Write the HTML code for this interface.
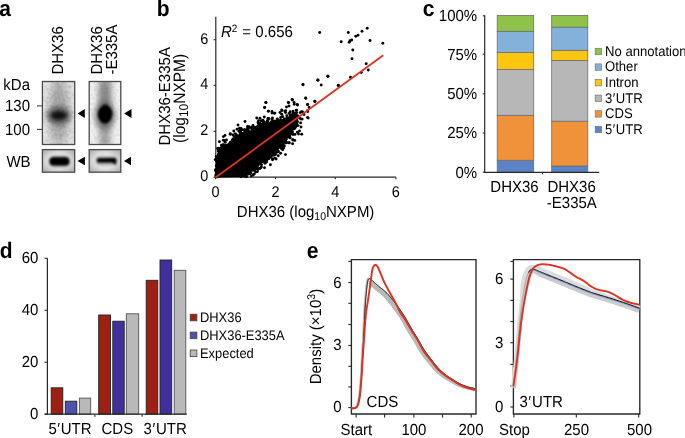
<!DOCTYPE html>
<html><head><meta charset="utf-8"><style>
html,body{margin:0;padding:0;background:#fff;}
svg{display:block;will-change:transform;text-rendering:geometricPrecision;font-family:"Liberation Sans", sans-serif;}
</style></head><body>
<svg width="685" height="438" viewBox="0 0 685 438">
<rect width="685" height="438" fill="#fff"/>
<text font-size="21" font-weight="bold" transform="translate(-0.8 15.8) scale(1 1.07)" fill="#000">a</text>
<text font-size="21" font-weight="bold" transform="translate(156.8 15.8) scale(1 1.07)" fill="#000">b</text>
<text font-size="21" font-weight="bold" transform="translate(422.8 16.1) scale(1 1.07)" fill="#000">c</text>
<text font-size="21" font-weight="bold" transform="translate(-0.2 258.0) scale(1 1.07)" fill="#000">d</text>
<text font-size="21" font-weight="bold" transform="translate(306.7 257.8) scale(1 1.07)" fill="#000">e</text>
<defs>
<filter id="noise" x="0" y="0" width="100%" height="100%">
 <feTurbulence type="fractalNoise" baseFrequency="0.35" numOctaves="2" seed="3" result="n"/>
 <feColorMatrix type="matrix" values="0 0 0 0 0  0 0 0 0 0  0 0 0 0 0  0 0 0 -1.2 0.75" />
</filter>
<filter id="blur1" x="-50%" y="-50%" width="200%" height="200%"><feGaussianBlur stdDeviation="1.6"/></filter>
<filter id="blur2" x="-50%" y="-50%" width="200%" height="200%"><feGaussianBlur stdDeviation="2.6"/></filter>
<filter id="blur05"><feGaussianBlur stdDeviation="0.7"/></filter>
<filter id="blur06" x="-20%" y="-50%" width="140%" height="200%"><feGaussianBlur stdDeviation="0.6"/></filter>
<filter id="blur08" x="-20%" y="-20%" width="140%" height="140%"><feGaussianBlur stdDeviation="0.8"/></filter>
<filter id="blur3" x="-50%" y="-50%" width="200%" height="200%"><feGaussianBlur stdDeviation="3"/></filter>
<filter id="blur4" x="-50%" y="-50%" width="200%" height="200%"><feGaussianBlur stdDeviation="4"/></filter>
<linearGradient id="laneL" x1="0" x2="1" y1="0" y2="0">
 <stop offset="0" stop-color="#e9e9e9"/><stop offset="0.5" stop-color="#c2c2c2"/><stop offset="1" stop-color="#e9e9e9"/>
</linearGradient>
<linearGradient id="laneR" x1="0" x2="1" y1="0" y2="0">
 <stop offset="0" stop-color="#f0f0f0"/><stop offset="0.2" stop-color="#e6e6e6"/><stop offset="0.5" stop-color="#a8a8a8"/><stop offset="0.8" stop-color="#e4e4e4"/><stop offset="1" stop-color="#eeeeee"/>
</linearGradient>
<radialGradient id="bandL" cx="0.5" cy="0.5" r="0.5">
 <stop offset="0" stop-color="#000" stop-opacity="1"/><stop offset="0.35" stop-color="#111" stop-opacity="0.9"/><stop offset="0.7" stop-color="#444" stop-opacity="0.35"/><stop offset="1" stop-color="#888" stop-opacity="0"/>
</radialGradient>
<radialGradient id="bandR" cx="0.5" cy="0.5" r="0.5">
 <stop offset="0" stop-color="#000" stop-opacity="1"/><stop offset="0.5" stop-color="#000" stop-opacity="1"/><stop offset="0.75" stop-color="#333" stop-opacity="0.6"/><stop offset="1" stop-color="#777" stop-opacity="0"/>
</radialGradient>
<radialGradient id="wbbg" cx="0.5" cy="0.5" r="0.6">
 <stop offset="0" stop-color="#f0f0f0"/><stop offset="0.55" stop-color="#e4e4e4"/><stop offset="1" stop-color="#b4b4b4"/>
</radialGradient>
<clipPath id="cg1"><rect x="42.4" y="81.5" width="32.3" height="63"/></clipPath>
<clipPath id="cg2"><rect x="89.2" y="81.5" width="31.6" height="63"/></clipPath>
</defs>
<g clip-path="url(#cg1)">
<rect x="42.40" y="81.50" width="32.30" height="63.00" fill="#e9e9e9"/>
<rect x="45" y="78" width="28" height="70" fill="url(#laneL)" filter="url(#blur2)"/>
<ellipse cx="59" cy="112" rx="10" ry="28" fill="#8a8a8a" opacity="0.5" filter="url(#blur4)"/>
<ellipse cx="58.8" cy="115.5" rx="12" ry="9" fill="#333" opacity="0.7" filter="url(#blur2)"/>
<ellipse cx="58.8" cy="115.5" rx="7.6" ry="3.9" fill="#000" opacity="0.78" filter="url(#blur1)"/>
<rect x="42.4" y="81.5" width="32.3" height="63" filter="url(#noise)" opacity="0.22"/>
</g>
<g clip-path="url(#cg2)">
<rect x="89.20" y="81.50" width="31.60" height="63.00" fill="#f2f2f2"/>
<path d="M98.5,78 L111.5,78 L111,112 L110,148 L99.5,148 L98.5,112 Z" fill="#a2a2a2" filter="url(#blur3)"/>
<ellipse cx="105" cy="98" rx="5" ry="16" fill="#777" opacity="0.6" filter="url(#blur2)"/>
<ellipse cx="105" cy="115.5" rx="10.5" ry="14" fill="#444" opacity="0.55" filter="url(#blur2)"/>
<path d="M105.6,104.3 C108.3,105.6 112.4,109 112.4,113.2 C112.4,118.6 108.8,123.6 105,123.6 C101,123.6 97.8,118.8 97.8,114 C97.8,109.5 102,105.3 105.6,104.3 Z" fill="#000" filter="url(#blur08)"/>
<rect x="89.2" y="81.5" width="31.6" height="63" filter="url(#noise)" opacity="0.15"/>
</g>
<rect x="42.40" y="81.50" width="32.30" height="63.00" fill="none" stroke="#4a4a4a" stroke-width="1.3"/>
<rect x="89.20" y="81.50" width="31.60" height="63.00" fill="none" stroke="#4a4a4a" stroke-width="1.3"/>
<rect x="42.40" y="149.60" width="32.30" height="22.60" fill="url(#wbbg)" stroke="#4a4a4a" stroke-width="1.3"/>
<rect x="89.20" y="149.60" width="31.60" height="22.60" fill="url(#wbbg)" stroke="#4a4a4a" stroke-width="1.3"/>
<rect x="48.6" y="155.8" width="21.7" height="11.4" rx="5.5" fill="#555" opacity="0.5" filter="url(#blur1)"/>
<rect x="49.6" y="157.3" width="19.7" height="8.3" rx="4" fill="#000" filter="url(#blur08)"/>
<rect x="95.5" y="156.3" width="21.5" height="9" rx="4.5" fill="#555" opacity="0.45" filter="url(#blur1)"/>
<path d="M97.6,158.3 L114.6,158.1 Q116.6,158.3 116.4,160.6 L115.8,165.3 Q114.6,163.0 112.0,162.6 L97.6,162.6 Q95.9,160.4 97.6,158.3 Z" fill="#000" filter="url(#blur08)"/>
<path d="M77.6,113.6 L84.8,109.1 L84.8,118.1 Z" fill="#000"/>
<path d="M124.1,113.6 L131.5,109.1 L131.5,118.1 Z" fill="#000"/>
<path d="M77.5,161.0 L84.9,156.7 L84.9,165.3 Z" fill="#000"/>
<path d="M124.0,161.0 L131.0,156.7 L131.0,165.3 Z" fill="#000"/>
<line x1="37" y1="105.9" x2="42.4" y2="105.9" stroke="#444" stroke-width="1.1"/>
<line x1="37" y1="129.4" x2="42.4" y2="129.4" stroke="#444" stroke-width="1.1"/>
<text font-size="15" text-anchor="end" transform="translate(30 89.8) scale(1 1.07)" fill="#000">kDa</text>
<text font-size="15" text-anchor="end" transform="translate(30 111.2) scale(1 1.07)" fill="#000">130</text>
<text font-size="15" text-anchor="end" transform="translate(30 134.8) scale(1 1.07)" fill="#000">100</text>
<text font-size="15" text-anchor="end" transform="translate(30.6 167.4) scale(1 1.07)" fill="#000">WB</text>
<text font-size="15" transform="translate(63.3 74.6) rotate(-90) scale(1 1.07)" fill="#000">DHX36</text>
<text font-size="15" transform="translate(101.8 74.6) rotate(-90) scale(1 1.07)" fill="#000">DHX36</text>
<text font-size="15" transform="translate(116.9 74.6) rotate(-90) scale(1 1.07)" fill="#000">-E335A</text>
<line x1="215.8" y1="16.7" x2="215.8" y2="177.8" stroke="#282828" stroke-width="1.2"/>
<line x1="215.2" y1="177.2" x2="395.9" y2="177.2" stroke="#282828" stroke-width="1.2"/>
<line x1="213.6" y1="39.7" x2="215.8" y2="39.7" stroke="#282828" stroke-width="1.1"/>
<line x1="213.6" y1="85.3" x2="215.8" y2="85.3" stroke="#282828" stroke-width="1.1"/>
<line x1="213.6" y1="131.3" x2="215.8" y2="131.3" stroke="#282828" stroke-width="1.1"/>
<line x1="213.6" y1="177.2" x2="215.8" y2="177.2" stroke="#282828" stroke-width="1.1"/>
<line x1="215.5" y1="177.2" x2="215.5" y2="179.2" stroke="#282828" stroke-width="1.1"/>
<line x1="275.5" y1="177.2" x2="275.5" y2="179.2" stroke="#282828" stroke-width="1.1"/>
<line x1="335.3" y1="177.2" x2="335.3" y2="179.2" stroke="#282828" stroke-width="1.1"/>
<line x1="395.9" y1="177.2" x2="395.9" y2="179.2" stroke="#282828" stroke-width="1.1"/>
<path d="M215.5,177.4 L215.9,163.2 L217.9,157.9 L219.7,152.3 L221.9,148.6 L225.6,146.2 L229.7,143.8 L232.3,141.4 L236.2,136.7 L240.7,133.4 L246.4,131.3 L252.7,129.9 L256.8,126.9 L262.7,124.6 L267.3,122.2 L272.1,122.0 L277.2,121.5 L282.3,120.7 L287.6,118.6 L291.7,115.5 L294.5,113.7 L296.0,114.7 L296.3,117.9 L294.9,123.6 L292.4,128.5 L290.0,133.4 L287.0,137.8 L285.0,140.3 L281.7,145.7 L277.4,151.1 L272.1,155.4 L266.7,159.8 L261.2,164.1 L255.7,168.4 L250.4,172.3 L246.1,174.5 L239.8,177.0 Z" fill="#000"/>
<g fill="#000"><circle cx="216.6" cy="173.3" r="1.45"/><circle cx="217.0" cy="177.1" r="1.45"/><circle cx="215.4" cy="170.1" r="1.45"/><circle cx="216.0" cy="170.5" r="1.45"/><circle cx="215.9" cy="176.8" r="1.45"/><circle cx="216.0" cy="171.7" r="1.45"/><circle cx="217.1" cy="168.7" r="1.45"/><circle cx="217.8" cy="163.4" r="1.45"/><circle cx="216.3" cy="173.8" r="1.45"/><circle cx="216.4" cy="176.0" r="1.45"/><circle cx="216.3" cy="165.8" r="1.45"/><circle cx="216.1" cy="169.9" r="1.45"/><circle cx="215.8" cy="175.1" r="1.45"/><circle cx="216.1" cy="169.3" r="1.45"/><circle cx="216.5" cy="159.1" r="1.45"/><circle cx="218.7" cy="163.8" r="1.45"/><circle cx="216.5" cy="161.1" r="1.45"/><circle cx="216.1" cy="160.4" r="1.45"/><circle cx="215.3" cy="159.6" r="1.45"/><circle cx="216.9" cy="158.3" r="1.45"/><circle cx="218.3" cy="160.6" r="1.45"/><circle cx="218.4" cy="155.0" r="1.45"/><circle cx="218.7" cy="153.7" r="1.45"/><circle cx="220.9" cy="154.7" r="1.45"/><circle cx="218.2" cy="156.2" r="1.45"/><circle cx="218.3" cy="155.6" r="1.45"/><circle cx="218.4" cy="155.1" r="1.45"/><circle cx="218.3" cy="156.9" r="1.45"/><circle cx="219.4" cy="153.5" r="1.45"/><circle cx="216.2" cy="156.5" r="1.45"/><circle cx="218.5" cy="151.3" r="1.45"/><circle cx="222.0" cy="149.0" r="1.45"/><circle cx="221.9" cy="149.3" r="1.45"/><circle cx="219.9" cy="150.3" r="1.45"/><circle cx="222.1" cy="151.9" r="1.45"/><circle cx="218.2" cy="150.8" r="1.45"/><circle cx="220.0" cy="151.7" r="1.45"/><circle cx="217.5" cy="148.5" r="1.45"/><circle cx="219.3" cy="149.0" r="1.45"/><circle cx="223.3" cy="147.6" r="1.45"/><circle cx="221.7" cy="145.6" r="1.45"/><circle cx="223.7" cy="145.9" r="1.45"/><circle cx="222.9" cy="146.3" r="1.45"/><circle cx="221.2" cy="147.6" r="1.45"/><circle cx="225.4" cy="146.7" r="1.45"/><circle cx="223.5" cy="144.7" r="1.45"/><circle cx="221.6" cy="145.3" r="1.45"/><circle cx="222.7" cy="144.9" r="1.45"/><circle cx="226.1" cy="146.5" r="1.45"/><circle cx="226.3" cy="145.9" r="1.45"/><circle cx="226.9" cy="145.3" r="1.45"/><circle cx="226.1" cy="145.7" r="1.45"/><circle cx="225.8" cy="145.7" r="1.45"/><circle cx="229.1" cy="144.1" r="1.45"/><circle cx="228.2" cy="145.0" r="1.45"/><circle cx="225.2" cy="142.3" r="1.45"/><circle cx="224.2" cy="140.5" r="1.45"/><circle cx="233.1" cy="142.5" r="1.45"/><circle cx="230.5" cy="142.2" r="1.45"/><circle cx="230.0" cy="143.3" r="1.45"/><circle cx="230.4" cy="142.6" r="1.45"/><circle cx="231.5" cy="144.7" r="1.45"/><circle cx="226.5" cy="139.9" r="1.45"/><circle cx="232.4" cy="140.3" r="1.45"/><circle cx="235.4" cy="139.5" r="1.45"/><circle cx="236.3" cy="136.7" r="1.45"/><circle cx="235.4" cy="136.9" r="1.45"/><circle cx="233.0" cy="139.0" r="1.45"/><circle cx="233.0" cy="140.6" r="1.45"/><circle cx="234.3" cy="136.6" r="1.45"/><circle cx="233.7" cy="139.9" r="1.45"/><circle cx="237.6" cy="137.8" r="1.45"/><circle cx="232.9" cy="134.9" r="1.45"/><circle cx="230.3" cy="133.7" r="1.45"/><circle cx="236.5" cy="135.0" r="1.45"/><circle cx="236.1" cy="136.4" r="1.45"/><circle cx="236.0" cy="136.4" r="1.45"/><circle cx="239.8" cy="134.8" r="1.45"/><circle cx="239.0" cy="131.3" r="1.45"/><circle cx="241.1" cy="133.8" r="1.45"/><circle cx="240.2" cy="132.8" r="1.45"/><circle cx="237.4" cy="136.3" r="1.45"/><circle cx="235.2" cy="133.6" r="1.45"/><circle cx="237.1" cy="129.2" r="1.45"/><circle cx="244.9" cy="129.9" r="1.45"/><circle cx="245.3" cy="131.7" r="1.45"/><circle cx="240.5" cy="131.8" r="1.45"/><circle cx="244.4" cy="129.6" r="1.45"/><circle cx="244.7" cy="130.9" r="1.45"/><circle cx="245.2" cy="131.6" r="1.45"/><circle cx="242.8" cy="133.4" r="1.45"/><circle cx="241.9" cy="129.8" r="1.45"/><circle cx="243.4" cy="133.9" r="1.45"/><circle cx="240.4" cy="129.9" r="1.45"/><circle cx="239.5" cy="128.2" r="1.45"/><circle cx="251.6" cy="131.9" r="1.45"/><circle cx="247.5" cy="132.3" r="1.45"/><circle cx="249.7" cy="127.6" r="1.45"/><circle cx="248.3" cy="130.1" r="1.45"/><circle cx="246.4" cy="130.9" r="1.45"/><circle cx="252.1" cy="129.0" r="1.45"/><circle cx="251.8" cy="128.8" r="1.45"/><circle cx="249.3" cy="131.9" r="1.45"/><circle cx="247.3" cy="129.4" r="1.45"/><circle cx="247.4" cy="128.5" r="1.45"/><circle cx="249.1" cy="126.7" r="1.45"/><circle cx="253.5" cy="128.4" r="1.45"/><circle cx="256.6" cy="127.1" r="1.45"/><circle cx="253.4" cy="127.4" r="1.45"/><circle cx="256.6" cy="127.2" r="1.45"/><circle cx="255.2" cy="129.2" r="1.45"/><circle cx="254.5" cy="127.5" r="1.45"/><circle cx="255.6" cy="129.0" r="1.45"/><circle cx="252.3" cy="127.3" r="1.45"/><circle cx="251.4" cy="127.8" r="1.45"/><circle cx="259.2" cy="125.0" r="1.45"/><circle cx="260.6" cy="124.2" r="1.45"/><circle cx="259.5" cy="125.2" r="1.45"/><circle cx="259.9" cy="125.6" r="1.45"/><circle cx="259.7" cy="125.0" r="1.45"/><circle cx="257.9" cy="125.9" r="1.45"/><circle cx="260.3" cy="127.3" r="1.45"/><circle cx="260.0" cy="125.6" r="1.45"/><circle cx="258.4" cy="123.5" r="1.45"/><circle cx="258.5" cy="120.7" r="1.45"/><circle cx="260.0" cy="123.4" r="1.45"/><circle cx="264.3" cy="122.2" r="1.45"/><circle cx="267.1" cy="121.8" r="1.45"/><circle cx="266.9" cy="124.3" r="1.45"/><circle cx="263.1" cy="122.1" r="1.45"/><circle cx="266.3" cy="124.7" r="1.45"/><circle cx="263.0" cy="123.4" r="1.45"/><circle cx="263.1" cy="123.7" r="1.45"/><circle cx="263.9" cy="123.9" r="1.45"/><circle cx="261.2" cy="120.7" r="1.45"/><circle cx="264.3" cy="117.0" r="1.45"/><circle cx="267.8" cy="121.6" r="1.45"/><circle cx="267.7" cy="120.4" r="1.45"/><circle cx="271.5" cy="122.6" r="1.45"/><circle cx="271.8" cy="121.7" r="1.45"/><circle cx="268.9" cy="118.6" r="1.45"/><circle cx="271.2" cy="122.1" r="1.45"/><circle cx="267.8" cy="120.8" r="1.45"/><circle cx="268.6" cy="118.8" r="1.45"/><circle cx="267.9" cy="118.4" r="1.45"/><circle cx="272.4" cy="123.4" r="1.45"/><circle cx="274.9" cy="121.3" r="1.45"/><circle cx="273.8" cy="121.7" r="1.45"/><circle cx="275.2" cy="121.1" r="1.45"/><circle cx="277.0" cy="121.3" r="1.45"/><circle cx="276.1" cy="121.9" r="1.45"/><circle cx="273.4" cy="121.6" r="1.45"/><circle cx="272.1" cy="119.6" r="1.45"/><circle cx="272.4" cy="117.9" r="1.45"/><circle cx="279.5" cy="122.7" r="1.45"/><circle cx="278.3" cy="120.0" r="1.45"/><circle cx="278.1" cy="122.4" r="1.45"/><circle cx="280.6" cy="120.0" r="1.45"/><circle cx="277.9" cy="122.8" r="1.45"/><circle cx="279.4" cy="121.5" r="1.45"/><circle cx="277.7" cy="122.7" r="1.45"/><circle cx="280.7" cy="117.5" r="1.45"/><circle cx="277.2" cy="118.9" r="1.45"/><circle cx="286.6" cy="118.5" r="1.45"/><circle cx="284.4" cy="118.9" r="1.45"/><circle cx="287.4" cy="119.8" r="1.45"/><circle cx="284.0" cy="120.8" r="1.45"/><circle cx="283.9" cy="120.9" r="1.45"/><circle cx="283.0" cy="120.4" r="1.45"/><circle cx="283.5" cy="120.3" r="1.45"/><circle cx="282.7" cy="116.8" r="1.45"/><circle cx="281.7" cy="114.3" r="1.45"/><circle cx="289.9" cy="117.2" r="1.45"/><circle cx="288.2" cy="119.1" r="1.45"/><circle cx="289.7" cy="119.0" r="1.45"/><circle cx="289.9" cy="116.8" r="1.45"/><circle cx="286.8" cy="115.8" r="1.45"/><circle cx="288.3" cy="118.4" r="1.45"/><circle cx="290.2" cy="114.9" r="1.45"/><circle cx="289.1" cy="113.4" r="1.45"/><circle cx="285.7" cy="112.6" r="1.45"/><circle cx="294.9" cy="113.3" r="1.45"/><circle cx="293.1" cy="115.4" r="1.45"/><circle cx="293.0" cy="112.8" r="1.45"/><circle cx="292.8" cy="114.4" r="1.45"/><circle cx="292.1" cy="115.4" r="1.45"/><circle cx="291.7" cy="115.2" r="1.45"/><circle cx="290.2" cy="111.7" r="1.45"/><circle cx="293.6" cy="114.5" r="1.45"/><circle cx="296.6" cy="112.8" r="1.45"/><circle cx="294.7" cy="113.8" r="1.45"/><circle cx="294.7" cy="114.8" r="1.45"/><circle cx="296.3" cy="110.4" r="1.45"/><circle cx="296.2" cy="118.0" r="1.45"/><circle cx="297.3" cy="117.9" r="1.45"/><circle cx="296.7" cy="118.0" r="1.45"/><circle cx="296.2" cy="115.4" r="1.45"/><circle cx="296.2" cy="115.7" r="1.45"/><circle cx="297.0" cy="115.9" r="1.45"/><circle cx="298.1" cy="115.9" r="1.45"/><circle cx="296.6" cy="117.8" r="1.45"/><circle cx="295.5" cy="120.0" r="1.45"/><circle cx="295.6" cy="117.8" r="1.45"/><circle cx="296.1" cy="119.1" r="1.45"/><circle cx="297.4" cy="121.7" r="1.45"/><circle cx="295.9" cy="121.8" r="1.45"/><circle cx="294.7" cy="121.9" r="1.45"/><circle cx="296.8" cy="119.9" r="1.45"/><circle cx="294.0" cy="123.4" r="1.45"/><circle cx="300.6" cy="122.9" r="1.45"/><circle cx="300.9" cy="119.1" r="1.45"/><circle cx="295.3" cy="127.6" r="1.45"/><circle cx="293.1" cy="127.1" r="1.45"/><circle cx="294.3" cy="126.4" r="1.45"/><circle cx="292.9" cy="125.6" r="1.45"/><circle cx="294.6" cy="128.5" r="1.45"/><circle cx="292.5" cy="125.9" r="1.45"/><circle cx="294.3" cy="127.5" r="1.45"/><circle cx="294.0" cy="124.4" r="1.45"/><circle cx="296.1" cy="126.3" r="1.45"/><circle cx="298.0" cy="125.6" r="1.45"/><circle cx="292.1" cy="132.2" r="1.45"/><circle cx="291.5" cy="131.9" r="1.45"/><circle cx="293.6" cy="129.1" r="1.45"/><circle cx="290.6" cy="132.5" r="1.45"/><circle cx="292.4" cy="131.8" r="1.45"/><circle cx="289.5" cy="131.1" r="1.45"/><circle cx="291.3" cy="129.5" r="1.45"/><circle cx="292.6" cy="129.0" r="1.45"/><circle cx="297.4" cy="132.3" r="1.45"/><circle cx="295.0" cy="134.4" r="1.45"/><circle cx="289.2" cy="135.3" r="1.45"/><circle cx="289.4" cy="136.0" r="1.45"/><circle cx="289.7" cy="137.2" r="1.45"/><circle cx="287.8" cy="136.0" r="1.45"/><circle cx="289.2" cy="134.4" r="1.45"/><circle cx="288.3" cy="137.1" r="1.45"/><circle cx="289.0" cy="132.8" r="1.45"/><circle cx="290.1" cy="133.8" r="1.45"/><circle cx="292.8" cy="139.7" r="1.45"/><circle cx="290.3" cy="137.9" r="1.45"/><circle cx="285.3" cy="138.2" r="1.45"/><circle cx="284.9" cy="138.0" r="1.45"/><circle cx="285.6" cy="137.4" r="1.45"/><circle cx="285.1" cy="140.2" r="1.45"/><circle cx="286.4" cy="139.1" r="1.45"/><circle cx="289.2" cy="142.8" r="1.45"/><circle cx="284.5" cy="142.1" r="1.45"/><circle cx="283.8" cy="141.2" r="1.45"/><circle cx="283.4" cy="143.8" r="1.45"/><circle cx="287.0" cy="142.6" r="1.45"/><circle cx="285.1" cy="141.4" r="1.45"/><circle cx="284.4" cy="146.1" r="1.45"/><circle cx="282.9" cy="144.3" r="1.45"/><circle cx="283.5" cy="141.2" r="1.45"/><circle cx="285.7" cy="141.0" r="1.45"/><circle cx="289.1" cy="142.9" r="1.45"/><circle cx="285.8" cy="143.1" r="1.45"/><circle cx="281.7" cy="146.9" r="1.45"/><circle cx="277.6" cy="149.9" r="1.45"/><circle cx="281.9" cy="145.8" r="1.45"/><circle cx="283.0" cy="147.7" r="1.45"/><circle cx="278.3" cy="151.2" r="1.45"/><circle cx="282.4" cy="148.8" r="1.45"/><circle cx="282.7" cy="149.8" r="1.45"/><circle cx="277.4" cy="147.4" r="1.45"/><circle cx="281.0" cy="148.3" r="1.45"/><circle cx="281.4" cy="145.8" r="1.45"/><circle cx="283.7" cy="148.1" r="1.45"/><circle cx="280.6" cy="153.2" r="1.45"/><circle cx="276.4" cy="152.3" r="1.45"/><circle cx="275.8" cy="150.9" r="1.45"/><circle cx="274.3" cy="151.1" r="1.45"/><circle cx="273.7" cy="155.2" r="1.45"/><circle cx="272.8" cy="152.2" r="1.45"/><circle cx="275.6" cy="154.6" r="1.45"/><circle cx="272.7" cy="153.0" r="1.45"/><circle cx="274.9" cy="152.7" r="1.45"/><circle cx="274.0" cy="154.9" r="1.45"/><circle cx="277.9" cy="151.9" r="1.45"/><circle cx="275.1" cy="158.2" r="1.45"/><circle cx="278.3" cy="155.7" r="1.45"/><circle cx="270.8" cy="157.0" r="1.45"/><circle cx="272.7" cy="159.0" r="1.45"/><circle cx="268.9" cy="158.7" r="1.45"/><circle cx="269.3" cy="156.2" r="1.45"/><circle cx="271.1" cy="155.9" r="1.45"/><circle cx="266.9" cy="159.0" r="1.45"/><circle cx="269.3" cy="157.4" r="1.45"/><circle cx="265.3" cy="158.1" r="1.45"/><circle cx="269.5" cy="157.1" r="1.45"/><circle cx="271.4" cy="155.5" r="1.45"/><circle cx="272.5" cy="159.7" r="1.45"/><circle cx="272.6" cy="158.9" r="1.45"/><circle cx="262.8" cy="161.3" r="1.45"/><circle cx="265.2" cy="162.6" r="1.45"/><circle cx="265.2" cy="162.5" r="1.45"/><circle cx="265.0" cy="161.5" r="1.45"/><circle cx="266.7" cy="160.6" r="1.45"/><circle cx="264.3" cy="158.2" r="1.45"/><circle cx="264.9" cy="163.3" r="1.45"/><circle cx="266.6" cy="162.1" r="1.45"/><circle cx="265.3" cy="161.1" r="1.45"/><circle cx="263.6" cy="161.0" r="1.45"/><circle cx="264.5" cy="167.8" r="1.45"/><circle cx="270.4" cy="164.8" r="1.45"/><circle cx="261.5" cy="164.8" r="1.45"/><circle cx="260.1" cy="168.1" r="1.45"/><circle cx="257.4" cy="165.9" r="1.45"/><circle cx="256.2" cy="168.3" r="1.45"/><circle cx="255.6" cy="166.4" r="1.45"/><circle cx="261.4" cy="167.1" r="1.45"/><circle cx="260.2" cy="164.1" r="1.45"/><circle cx="256.8" cy="166.4" r="1.45"/><circle cx="256.3" cy="168.6" r="1.45"/><circle cx="258.0" cy="168.8" r="1.45"/><circle cx="260.3" cy="168.2" r="1.45"/><circle cx="258.2" cy="169.3" r="1.45"/><circle cx="253.7" cy="168.4" r="1.45"/><circle cx="254.6" cy="170.4" r="1.45"/><circle cx="255.1" cy="169.1" r="1.45"/><circle cx="251.1" cy="170.0" r="1.45"/><circle cx="254.5" cy="168.0" r="1.45"/><circle cx="252.3" cy="170.4" r="1.45"/><circle cx="253.6" cy="169.9" r="1.45"/><circle cx="254.9" cy="167.4" r="1.45"/><circle cx="255.8" cy="172.0" r="1.45"/><circle cx="254.3" cy="173.9" r="1.45"/><circle cx="253.2" cy="175.0" r="1.45"/><circle cx="249.4" cy="172.9" r="1.45"/><circle cx="246.4" cy="174.9" r="1.45"/><circle cx="250.9" cy="173.3" r="1.45"/><circle cx="248.6" cy="174.0" r="1.45"/><circle cx="249.9" cy="173.9" r="1.45"/><circle cx="247.3" cy="173.3" r="1.45"/><circle cx="250.6" cy="172.8" r="1.45"/><circle cx="251.4" cy="176.1" r="1.45"/><circle cx="241.0" cy="176.8" r="1.45"/><circle cx="245.4" cy="176.4" r="1.45"/><circle cx="244.0" cy="173.5" r="1.45"/><circle cx="244.7" cy="175.2" r="1.45"/><circle cx="242.9" cy="175.7" r="1.45"/><circle cx="243.2" cy="175.1" r="1.45"/><circle cx="241.6" cy="175.9" r="1.45"/><circle cx="243.7" cy="175.9" r="1.45"/><circle cx="246.6" cy="176.7" r="1.45"/><circle cx="319.7" cy="32.5" r="1.45"/><circle cx="348.3" cy="32.5" r="1.45"/><circle cx="367.2" cy="28.3" r="1.45"/><circle cx="362.0" cy="31.3" r="1.45"/><circle cx="355.8" cy="36.2" r="1.45"/><circle cx="358.0" cy="35.3" r="1.45"/><circle cx="341.2" cy="41.7" r="1.45"/><circle cx="350.0" cy="40.8" r="1.45"/><circle cx="351.7" cy="40.0" r="1.45"/><circle cx="349.2" cy="42.2" r="1.45"/><circle cx="370.0" cy="40.5" r="1.45"/><circle cx="382.8" cy="43.3" r="1.45"/><circle cx="352.8" cy="50.0" r="1.45"/><circle cx="352.0" cy="58.7" r="1.45"/><circle cx="366.2" cy="63.7" r="1.45"/><circle cx="368.3" cy="70.0" r="1.45"/><circle cx="361.3" cy="72.5" r="1.45"/><circle cx="350.5" cy="77.2" r="1.45"/><circle cx="328.0" cy="76.3" r="1.45"/><circle cx="318.0" cy="80.0" r="1.45"/><circle cx="321.2" cy="85.0" r="1.45"/><circle cx="303.0" cy="84.5" r="1.45"/><circle cx="338.3" cy="85.3" r="1.45"/><circle cx="317.8" cy="80.3" r="1.45"/><circle cx="327.8" cy="76.3" r="1.45"/><circle cx="338.3" cy="85.5" r="1.45"/><circle cx="303.0" cy="84.7" r="1.45"/><circle cx="305.8" cy="98.3" r="1.45"/><circle cx="315.0" cy="101.3" r="1.45"/><circle cx="265.8" cy="102.5" r="1.45"/><circle cx="264.7" cy="107.5" r="1.45"/><circle cx="288.3" cy="102.5" r="1.45"/><circle cx="292.5" cy="100.0" r="1.45"/><circle cx="294.2" cy="104.2" r="1.45"/><circle cx="297.5" cy="105.0" r="1.45"/><circle cx="307.5" cy="104.7" r="1.45"/><circle cx="268.3" cy="111.3" r="1.45"/><circle cx="281.7" cy="110.0" r="1.45"/><circle cx="285.0" cy="111.7" r="1.45"/><circle cx="307.5" cy="110.8" r="1.45"/><circle cx="307.5" cy="117.5" r="1.45"/><circle cx="300.0" cy="118.3" r="1.45"/><circle cx="296.7" cy="123.3" r="1.45"/><circle cx="256.7" cy="118.0" r="1.45"/><circle cx="260.0" cy="118.3" r="1.45"/><circle cx="274.2" cy="113.3" r="1.45"/><circle cx="302.5" cy="112.0" r="1.45"/><circle cx="304.0" cy="114.5" r="1.45"/><circle cx="301.0" cy="127.0" r="1.45"/><circle cx="299.5" cy="131.0" r="1.45"/><circle cx="298.5" cy="134.0" r="1.45"/><circle cx="293.0" cy="140.0" r="1.45"/><circle cx="280.0" cy="112.5" r="1.45"/><circle cx="272.0" cy="111.5" r="1.45"/><circle cx="286.5" cy="107.0" r="1.45"/><circle cx="289.0" cy="106.0" r="1.45"/><circle cx="245.0" cy="121.5" r="1.45"/><circle cx="238.0" cy="125.0" r="1.45"/><circle cx="266.0" cy="102.5" r="1.45"/><circle cx="264.5" cy="107.5" r="1.45"/><circle cx="268.5" cy="111.1" r="1.45"/><circle cx="272.0" cy="113.1" r="1.45"/><circle cx="275.0" cy="113.1" r="1.45"/><circle cx="282.1" cy="110.6" r="1.45"/><circle cx="285.6" cy="110.6" r="1.45"/><circle cx="288.6" cy="102.5" r="1.45"/><circle cx="292.1" cy="99.5" r="1.45"/><circle cx="294.1" cy="102.5" r="1.45"/><circle cx="297.1" cy="104.5" r="1.45"/><circle cx="293.1" cy="111.1" r="1.45"/><circle cx="296.6" cy="110.1" r="1.45"/><circle cx="300.2" cy="112.6" r="1.45"/><circle cx="301.7" cy="111.6" r="1.45"/><circle cx="305.7" cy="98.0" r="1.45"/><circle cx="307.7" cy="104.5" r="1.45"/><circle cx="309.2" cy="107.5" r="1.45"/><circle cx="307.7" cy="111.6" r="1.45"/><circle cx="308.2" cy="118.1" r="1.45"/><circle cx="302.2" cy="119.1" r="1.45"/><circle cx="297.1" cy="121.6" r="1.45"/><circle cx="296.6" cy="125.1" r="1.45"/><circle cx="301.7" cy="134.2" r="1.45"/><circle cx="314.7" cy="101.5" r="1.45"/><circle cx="293.1" cy="134.2" r="1.45"/><circle cx="292.6" cy="134.4" r="1.45"/><circle cx="294.8" cy="140.4" r="1.45"/><circle cx="292.6" cy="143.7" r="1.45"/><circle cx="285.5" cy="154.6" r="1.45"/><circle cx="276.1" cy="159.0" r="1.45"/><circle cx="257.5" cy="171.6" r="1.45"/><circle cx="219.4" cy="141.8" r="1.45"/><circle cx="223.4" cy="136.6" r="1.45"/><circle cx="225.0" cy="135.4" r="1.45"/><circle cx="230.2" cy="134.2" r="1.45"/><circle cx="233.8" cy="131.0" r="1.45"/><circle cx="218.6" cy="148.2" r="1.45"/><circle cx="223.4" cy="140.2" r="1.45"/><circle cx="241.0" cy="128.5" r="1.45"/><circle cx="247.5" cy="126.5" r="1.45"/><circle cx="253.0" cy="125.5" r="1.45"/><circle cx="258.0" cy="122.5" r="1.45"/><circle cx="263.0" cy="120.2" r="1.45"/></g>
<line x1="215.4" y1="177.6" x2="383.3" y2="55.3" stroke="#dc3421" stroke-width="1.8"/>
<text font-size="14.5" text-anchor="end" transform="translate(208.3 43.800000000000004) scale(1 1.07)" fill="#000">6</text>
<text font-size="14.5" text-anchor="end" transform="translate(208.3 89.39999999999999) scale(1 1.07)" fill="#000">4</text>
<text font-size="14.5" text-anchor="end" transform="translate(208.3 135.4) scale(1 1.07)" fill="#000">2</text>
<text font-size="14.5" text-anchor="end" transform="translate(208.3 181.29999999999998) scale(1 1.07)" fill="#000">0</text>
<text font-size="14.5" text-anchor="middle" transform="translate(215.5 197.2) scale(1 1.07)" fill="#000">0</text>
<text font-size="14.5" text-anchor="middle" transform="translate(275.5 197.2) scale(1 1.07)" fill="#000">2</text>
<text font-size="14.5" text-anchor="middle" transform="translate(335.3 197.2) scale(1 1.07)" fill="#000">4</text>
<text font-size="14.5" text-anchor="middle" transform="translate(395.9 197.2) scale(1 1.07)" fill="#000">6</text>
<text transform="translate(221.0 36.7) scale(1 1.07)" font-size="15"><tspan font-style="italic">R</tspan><tspan font-size="10" dy="-4.6">2</tspan><tspan dy="4.6" dx="0.8" xml:space="preserve"> = 0.656</tspan></text>
<text transform="translate(305.6 216.8) scale(1 1.07)" font-size="15" text-anchor="middle">DHX36 (log<tspan font-size="10.5" dy="3">10</tspan><tspan dy="-3">NXPM)</tspan></text>
<text transform="translate(170.4 96.3) rotate(-90) scale(1 1.07)" font-size="15" text-anchor="middle">DHX36-E335A</text>
<text transform="translate(184.6 98.4) rotate(-90) scale(1 1.07)" font-size="15.5" text-anchor="middle">(log<tspan font-size="12" dy="3">10</tspan><tspan dy="-3">NXPM)</tspan></text>
<rect x="497.20" y="160.30" width="36.50" height="11.90" fill="#5b84c6" stroke="#6e6e6e" stroke-width="0.8"/>
<rect x="497.20" y="115.30" width="36.50" height="45.00" fill="#f0923a" stroke="#6e6e6e" stroke-width="0.8"/>
<rect x="497.20" y="69.50" width="36.50" height="45.80" fill="#b7b7b7" stroke="#6e6e6e" stroke-width="0.8"/>
<rect x="497.20" y="52.50" width="36.50" height="17.00" fill="#fcc610" stroke="#6e6e6e" stroke-width="0.8"/>
<rect x="497.20" y="31.30" width="36.50" height="21.20" fill="#84b1da" stroke="#6e6e6e" stroke-width="0.8"/>
<rect x="497.20" y="15.40" width="36.50" height="15.90" fill="#8ec24a" stroke="#6e6e6e" stroke-width="0.8"/>
<rect x="551.70" y="166.00" width="36.10" height="6.20" fill="#5b84c6" stroke="#6e6e6e" stroke-width="0.8"/>
<rect x="551.70" y="121.20" width="36.10" height="44.80" fill="#f0923a" stroke="#6e6e6e" stroke-width="0.8"/>
<rect x="551.70" y="60.40" width="36.10" height="60.80" fill="#b7b7b7" stroke="#6e6e6e" stroke-width="0.8"/>
<rect x="551.70" y="50.30" width="36.10" height="10.10" fill="#fcc610" stroke="#6e6e6e" stroke-width="0.8"/>
<rect x="551.70" y="27.20" width="36.10" height="23.10" fill="#84b1da" stroke="#6e6e6e" stroke-width="0.8"/>
<rect x="551.70" y="15.40" width="36.10" height="11.80" fill="#8ec24a" stroke="#6e6e6e" stroke-width="0.8"/>
<line x1="484.7" y1="15.3" x2="484.7" y2="172.8" stroke="#282828" stroke-width="1.2"/>
<line x1="484.1" y1="172.3" x2="599.2" y2="172.3" stroke="#282828" stroke-width="1.2"/>
<line x1="482.8" y1="15.8" x2="484.7" y2="15.8" stroke="#282828" stroke-width="1.1"/>
<line x1="482.8" y1="54.2" x2="484.7" y2="54.2" stroke="#282828" stroke-width="1.1"/>
<line x1="482.8" y1="93.8" x2="484.7" y2="93.8" stroke="#282828" stroke-width="1.1"/>
<line x1="482.8" y1="133.0" x2="484.7" y2="133.0" stroke="#282828" stroke-width="1.1"/>
<line x1="482.8" y1="172.2" x2="484.7" y2="172.2" stroke="#282828" stroke-width="1.1"/>
<line x1="542.5" y1="172.3" x2="542.5" y2="174.4" stroke="#282828" stroke-width="1.1"/>
<text font-size="15" text-anchor="end" transform="translate(477.2 21.1) scale(1 1.07)" fill="#000">100%</text>
<text font-size="15" text-anchor="end" transform="translate(477.2 59.5) scale(1 1.07)" fill="#000">75%</text>
<text font-size="15" text-anchor="end" transform="translate(477.2 99.1) scale(1 1.07)" fill="#000">50%</text>
<text font-size="15" text-anchor="end" transform="translate(477.2 138.3) scale(1 1.07)" fill="#000">25%</text>
<text font-size="15" text-anchor="end" transform="translate(477.2 177.5) scale(1 1.07)" fill="#000">0%</text>
<text font-size="15" text-anchor="middle" transform="translate(514.5 192.1) scale(1 1.07)" fill="#000">DHX36</text>
<text font-size="15" text-anchor="middle" transform="translate(571.6 192.1) scale(1 1.07)" fill="#000">DHX36</text>
<text font-size="15" text-anchor="middle" transform="translate(571.8 207.9) scale(1 1.07)" fill="#000">-E335A</text>
<rect x="595.20" y="48.30" width="6.40" height="6.40" fill="#8ec24a" stroke="#777" stroke-width="0.7"/>
<text font-size="13.1" transform="translate(605.0 55.7) scale(1 1.07)" fill="#000">No annotation</text>
<rect x="595.20" y="63.90" width="6.40" height="6.40" fill="#84b1da" stroke="#777" stroke-width="0.7"/>
<text font-size="13.1" transform="translate(605.0 71.3) scale(1 1.07)" fill="#000">Other</text>
<rect x="595.20" y="79.50" width="6.40" height="6.40" fill="#fcc610" stroke="#777" stroke-width="0.7"/>
<text font-size="13.1" transform="translate(605.0 86.9) scale(1 1.07)" fill="#000">Intron</text>
<rect x="595.20" y="95.10" width="6.40" height="6.40" fill="#b7b7b7" stroke="#777" stroke-width="0.7"/>
<text font-size="13.1" transform="translate(605.0 102.5) scale(1 1.07)" fill="#000">3<tspan dx="0.4">′</tspan><tspan dx="0.6">UTR</tspan></text>
<rect x="595.20" y="110.70" width="6.40" height="6.40" fill="#f0923a" stroke="#777" stroke-width="0.7"/>
<text font-size="13.1" transform="translate(605.0 118.10000000000001) scale(1 1.07)" fill="#000">CDS</text>
<rect x="595.20" y="126.30" width="6.40" height="6.40" fill="#5b84c6" stroke="#777" stroke-width="0.7"/>
<text font-size="13.1" transform="translate(605.0 133.7) scale(1 1.07)" fill="#000">5<tspan dx="0.4">′</tspan><tspan dx="0.6">UTR</tspan></text>
<rect x="51.20" y="387.80" width="11.60" height="26.40" fill="#a01f13" stroke="#222" stroke-width="0.9"/>
<rect x="65.30" y="401.20" width="11.50" height="13.00" fill="#4a53ad" stroke="#222" stroke-width="0.9"/>
<rect x="79.40" y="398.10" width="11.30" height="16.10" fill="#b9b9b9" stroke="#555" stroke-width="0.9"/>
<rect x="98.70" y="315.00" width="11.80" height="99.20" fill="#a01f13" stroke="#222" stroke-width="0.9"/>
<rect x="112.80" y="321.20" width="11.40" height="93.00" fill="#41309b" stroke="#222" stroke-width="0.9"/>
<rect x="126.30" y="313.80" width="12.40" height="100.40" fill="#b9b9b9" stroke="#555" stroke-width="0.9"/>
<rect x="146.20" y="280.30" width="11.60" height="133.90" fill="#a01f13" stroke="#222" stroke-width="0.9"/>
<rect x="160.00" y="260.00" width="11.70" height="154.20" fill="#41309b" stroke="#222" stroke-width="0.9"/>
<rect x="174.20" y="270.30" width="11.60" height="143.90" fill="#b9b9b9" stroke="#555" stroke-width="0.9"/>
<line x1="47.4" y1="258.3" x2="47.4" y2="414.8" stroke="#282828" stroke-width="1.2"/>
<line x1="44.6" y1="414.2" x2="186.8" y2="414.2" stroke="#282828" stroke-width="1.2"/>
<line x1="44.6" y1="258.3" x2="47.4" y2="258.3" stroke="#282828" stroke-width="1.1"/>
<line x1="44.6" y1="310.3" x2="47.4" y2="310.3" stroke="#282828" stroke-width="1.1"/>
<line x1="44.6" y1="362.2" x2="47.4" y2="362.2" stroke="#282828" stroke-width="1.1"/>
<line x1="44.6" y1="414.2" x2="47.4" y2="414.2" stroke="#282828" stroke-width="1.1"/>
<line x1="94.9" y1="414.2" x2="94.9" y2="416.8" stroke="#282828" stroke-width="1.1"/>
<line x1="142.1" y1="414.2" x2="142.1" y2="416.8" stroke="#282828" stroke-width="1.1"/>
<text font-size="15" text-anchor="end" transform="translate(38.4 263.0) scale(1 1.07)" fill="#000">60</text>
<text font-size="15" text-anchor="end" transform="translate(38.4 315.0) scale(1 1.07)" fill="#000">40</text>
<text font-size="15" text-anchor="end" transform="translate(38.4 366.9) scale(1 1.07)" fill="#000">20</text>
<text font-size="15" text-anchor="end" transform="translate(38.4 418.9) scale(1 1.07)" fill="#000">0</text>
<text font-size="15" text-anchor="middle" transform="translate(70.0 434.4) scale(1 1.07)" fill="#000">5<tspan dx="0.5">′</tspan><tspan dx="0.7">UTR</tspan></text>
<text font-size="15" text-anchor="middle" transform="translate(117.3 434.4) scale(1 1.07)" fill="#000">CDS</text>
<text font-size="15" text-anchor="middle" transform="translate(165.2 434.4) scale(1 1.07)" fill="#000">3<tspan dx="0.5">′</tspan><tspan dx="0.7">UTR</tspan></text>
<rect x="190.20" y="314.20" width="6.70" height="6.60" fill="#a01f13" stroke="#444" stroke-width="0.8"/>
<text font-size="12.9" transform="translate(200.0 321.8) scale(1 1.07)" fill="#000">DHX36</text>
<rect x="190.20" y="332.10" width="6.70" height="6.60" fill="#4a53ad" stroke="#444" stroke-width="0.8"/>
<text font-size="12.9" transform="translate(200.0 339.7) scale(1 1.07)" fill="#000">DHX36-E335A</text>
<rect x="190.20" y="350.00" width="6.70" height="6.60" fill="#b9b9b9" stroke="#444" stroke-width="0.8"/>
<text font-size="12.9" transform="translate(200.0 357.6) scale(1 1.07)" fill="#000">Expected</text>
<path d="M351.4,259.6 L476.0,259.6 L476.0,414.0 L351.4,414.0 Z" fill="none" stroke="#282828" stroke-width="1.35"/>
<line x1="348.29999999999995" y1="261.4" x2="351.4" y2="261.4" stroke="#282828" stroke-width="1.1"/>
<line x1="348.29999999999995" y1="282.5" x2="351.4" y2="282.5" stroke="#282828" stroke-width="1.1"/>
<line x1="348.29999999999995" y1="303.3" x2="351.4" y2="303.3" stroke="#282828" stroke-width="1.1"/>
<line x1="348.29999999999995" y1="324.5" x2="351.4" y2="324.5" stroke="#282828" stroke-width="1.1"/>
<line x1="348.29999999999995" y1="345.5" x2="351.4" y2="345.5" stroke="#282828" stroke-width="1.1"/>
<line x1="348.29999999999995" y1="366.3" x2="351.4" y2="366.3" stroke="#282828" stroke-width="1.1"/>
<line x1="348.29999999999995" y1="386.9" x2="351.4" y2="386.9" stroke="#282828" stroke-width="1.1"/>
<line x1="348.29999999999995" y1="407.6" x2="351.4" y2="407.6" stroke="#282828" stroke-width="1.1"/>
<line x1="356.1" y1="414.0" x2="356.1" y2="417.6" stroke="#282828" stroke-width="1.1"/>
<line x1="384.6" y1="414.0" x2="384.6" y2="417.6" stroke="#282828" stroke-width="1.1"/>
<line x1="413.9" y1="414.0" x2="413.9" y2="417.6" stroke="#282828" stroke-width="1.1"/>
<line x1="442.5" y1="414.0" x2="442.5" y2="417.6" stroke="#282828" stroke-width="1.1"/>
<line x1="471.2" y1="414.0" x2="471.2" y2="417.6" stroke="#282828" stroke-width="1.1"/>
<path d="M513.4,259.6 L639.8,259.6 L639.8,414.0 L513.4,414.0 Z" fill="none" stroke="#282828" stroke-width="1.35"/>
<line x1="510.29999999999995" y1="261.4" x2="513.4" y2="261.4" stroke="#282828" stroke-width="1.1"/>
<line x1="510.29999999999995" y1="279.1" x2="513.4" y2="279.1" stroke="#282828" stroke-width="1.1"/>
<line x1="510.29999999999995" y1="300.4" x2="513.4" y2="300.4" stroke="#282828" stroke-width="1.1"/>
<line x1="510.29999999999995" y1="321.5" x2="513.4" y2="321.5" stroke="#282828" stroke-width="1.1"/>
<line x1="510.29999999999995" y1="342.7" x2="513.4" y2="342.7" stroke="#282828" stroke-width="1.1"/>
<line x1="510.29999999999995" y1="364.4" x2="513.4" y2="364.4" stroke="#282828" stroke-width="1.1"/>
<line x1="510.29999999999995" y1="386.0" x2="513.4" y2="386.0" stroke="#282828" stroke-width="1.1"/>
<line x1="510.29999999999995" y1="407.0" x2="513.4" y2="407.0" stroke="#282828" stroke-width="1.1"/>
<line x1="513.9" y1="414.0" x2="513.9" y2="417.6" stroke="#282828" stroke-width="1.1"/>
<line x1="576.3" y1="414.0" x2="576.3" y2="417.6" stroke="#282828" stroke-width="1.1"/>
<line x1="638.7" y1="414.0" x2="638.7" y2="417.6" stroke="#282828" stroke-width="1.1"/>
<path d="M351.40,407.00 L351.64,406.99 L351.94,406.98 L352.26,406.98 L352.60,406.98 L352.95,406.98 L353.31,406.97 L353.66,406.95 L354.00,406.93 L354.30,406.89 L354.54,406.84 L354.71,406.80 L354.82,406.75 L354.93,406.69 L355.06,406.61 L355.17,406.53 L355.26,406.45 L355.34,406.36 L355.43,406.26 L355.52,406.13 L355.62,405.96 L355.73,405.76 L355.85,405.52 L355.98,405.23 L356.11,404.91 L356.25,404.56 L356.38,404.17 L356.51,403.73 L356.64,403.25 L356.78,402.75 L356.91,402.21 L357.03,401.66 L357.16,401.09 L357.28,400.50 L357.40,399.91 L357.51,399.31 L357.63,398.71 L357.73,398.12 L357.83,397.57 L357.93,397.03 L358.02,396.49 L358.10,395.94 L358.18,395.37 L358.27,394.77 L358.35,394.12 L358.43,393.41 L358.52,392.64 L358.61,391.79 L358.71,390.84 L358.81,389.79 L358.92,388.64 L359.03,387.40 L359.14,386.09 L359.26,384.72 L359.37,383.31 L359.49,381.87 L359.60,380.43 L359.71,379.00 L359.81,377.59 L359.91,376.21 L360.00,374.89 L360.09,373.63 L360.16,372.39 L360.23,371.18 L360.29,369.99 L360.36,368.80 L360.41,367.61 L360.47,366.41 L360.53,365.18 L360.59,363.93 L360.66,362.64 L360.73,361.30 L360.80,359.91 L360.88,358.47 L360.97,356.97 L361.06,355.44 L361.15,353.87 L361.25,352.27 L361.35,350.65 L361.44,349.02 L361.54,347.39 L361.63,345.75 L361.73,344.12 L361.82,342.51 L361.90,340.92 L361.98,339.32 L362.07,337.70 L362.15,336.06 L362.22,334.41 L362.30,332.76 L362.38,331.11 L362.45,329.49 L362.52,327.89 L362.60,326.33 L362.67,324.80 L362.73,323.33 L362.80,321.92 L362.87,320.57 L362.93,319.26 L362.99,317.99 L363.05,316.76 L363.10,315.56 L363.16,314.40 L363.21,313.26 L363.27,312.15 L363.32,311.06 L363.38,309.99 L363.44,308.94 L363.50,307.90 L363.57,306.89 L363.63,305.91 L363.69,304.96 L363.76,304.04 L363.83,303.15 L363.89,302.27 L363.96,301.41 L364.03,300.57 L364.10,299.73 L364.17,298.91 L364.24,298.08 L364.31,297.26 L364.38,296.44 L364.45,295.63 L364.52,294.83 L364.60,294.04 L364.67,293.26 L364.75,292.49 L364.82,291.73 L364.90,290.98 L364.97,290.24 L365.05,289.52 L365.13,288.81 L365.21,288.12 L365.29,287.43 L365.37,286.74 L365.45,286.05 L365.53,285.36 L365.61,284.69 L365.69,284.02 L365.77,283.38 L365.86,282.77 L365.95,282.18 L366.04,281.63 L366.14,281.11 L366.24,280.63 L366.35,280.20 L366.47,279.81 L366.60,279.44 L366.73,279.11 L366.88,278.80 L367.05,278.50 L367.24,278.23 L367.45,277.99 L367.67,277.77 L367.89,277.58 L368.11,277.43 L368.86,278.26 L369.05,278.17 L369.26,278.12 L369.47,278.10 L369.68,278.12 L369.87,278.17 L370.05,278.24 L370.22,278.32 L370.39,278.42 L370.56,278.52 L370.73,278.64 L370.90,278.76 L371.09,278.89 L371.30,279.04 L371.51,279.21 L371.73,279.40 L371.95,279.59 L372.18,279.80 L372.41,280.02 L372.65,280.25 L372.91,280.48 L373.17,280.73 L373.44,280.99 L373.73,281.26 L374.03,281.53 L374.36,281.82 L374.70,282.13 L375.07,282.46 L375.45,282.80 L375.84,283.16 L376.23,283.52 L376.64,283.88 L377.04,284.24 L377.45,284.60 L377.85,284.95 L378.24,285.29 L378.62,285.62 L379.00,285.93 L379.37,286.23 L379.74,286.53 L380.11,286.83 L380.48,287.12 L380.86,287.41 L381.23,287.70 L381.61,287.99 L381.98,288.29 L382.36,288.59 L382.74,288.90 L383.12,289.22 L383.50,289.54 L383.88,289.85 L384.26,290.17 L384.65,290.50 L385.03,290.82 L385.42,291.15 L385.81,291.49 L386.20,291.84 L386.59,292.20 L386.98,292.57 L387.37,292.95 L387.76,293.35 L388.16,293.78 L388.56,294.23 L388.97,294.71 L389.39,295.19 L389.80,295.69 L390.21,296.19 L390.61,296.69 L391.00,297.17 L391.37,297.64 L391.73,298.09 L392.07,298.50 L392.38,298.88 L392.66,299.21 L392.91,299.49 L393.13,299.74 L393.32,299.96 L393.51,300.17 L393.69,300.37 L393.88,300.59 L394.07,300.81 L394.29,301.07 L394.52,301.36 L394.79,301.70 L395.10,302.10 L395.44,302.55 L395.81,303.04 L396.20,303.57 L396.62,304.12 L397.05,304.71 L397.50,305.32 L397.95,305.94 L398.41,306.57 L398.87,307.21 L399.32,307.85 L399.77,308.49 L400.21,309.11 L400.64,309.73 L401.06,310.34 L401.48,310.94 L401.91,311.55 L402.33,312.17 L402.76,312.79 L403.19,313.43 L403.62,314.09 L404.06,314.76 L404.51,315.46 L404.96,316.19 L405.43,316.94 L405.90,317.73 L406.38,318.55 L406.86,319.40 L407.35,320.27 L407.85,321.16 L408.34,322.06 L408.85,322.97 L409.36,323.89 L409.87,324.81 L410.39,325.73 L410.91,326.64 L411.43,327.55 L411.96,328.45 L412.51,329.35 L413.06,330.27 L413.62,331.18 L414.19,332.10 L414.76,333.02 L415.33,333.95 L415.90,334.87 L416.46,335.79 L417.03,336.71 L417.58,337.63 L418.13,338.54 L418.67,339.46 L419.21,340.39 L419.74,341.32 L420.27,342.25 L420.79,343.18 L421.31,344.10 L421.83,345.02 L422.35,345.92 L422.86,346.80 L423.38,347.67 L423.90,348.51 L424.42,349.33 L424.94,350.11 L425.45,350.87 L425.96,351.60 L426.46,352.31 L426.97,353.00 L427.48,353.69 L427.99,354.37 L428.51,355.05 L429.04,355.74 L429.58,356.44 L430.13,357.16 L430.70,357.90 L431.28,358.66 L431.88,359.45 L432.49,360.25 L433.11,361.06 L433.74,361.88 L434.37,362.69 L435.01,363.50 L435.64,364.30 L436.28,365.08 L436.92,365.84 L437.55,366.57 L438.17,367.26 L438.79,367.93 L439.41,368.58 L440.03,369.21 L440.65,369.83 L441.27,370.43 L441.88,371.01 L442.50,371.58 L443.12,372.13 L443.74,372.67 L444.36,373.19 L444.99,373.71 L445.61,374.21 L446.23,374.69 L446.86,375.15 L447.48,375.59 L448.11,376.02 L448.74,376.44 L449.37,376.84 L450.00,377.24 L450.63,377.63 L451.26,378.01 L451.90,378.40 L452.53,378.78 L453.16,379.18 L453.79,379.57 L454.42,379.96 L455.05,380.36 L455.67,380.75 L456.29,381.13 L456.91,381.51 L457.53,381.88 L458.15,382.24 L458.77,382.59 L459.39,382.92 L460.00,383.25 L460.62,383.55 L461.23,383.84 L461.85,384.11 L462.46,384.37 L463.07,384.62 L463.68,384.86 L464.30,385.09 L464.91,385.31 L465.53,385.52 L466.15,385.73 L466.78,385.93 L467.41,386.13 L468.04,386.32 L468.71,386.51 L469.41,386.71 L470.15,386.90 L470.91,387.08 L471.68,387.26 L472.43,387.44 L473.16,387.60 L473.84,387.75 L474.48,387.89 L475.04,388.02 L475.53,388.12 L475.91,388.21 L475.25,391.05 L474.88,390.98 L474.40,390.91 L473.84,390.81 L473.19,390.71 L472.49,390.59 L471.74,390.47 L470.96,390.33 L470.17,390.19 L469.37,390.04 L468.57,389.88 L467.80,389.71 L467.08,389.54 L466.40,389.37 L465.74,389.20 L465.07,389.02 L464.41,388.84 L463.74,388.64 L463.07,388.44 L462.40,388.23 L461.73,388.00 L461.05,387.77 L460.36,387.51 L459.67,387.24 L458.98,386.96 L458.27,386.65 L457.58,386.33 L456.88,385.99 L456.20,385.64 L455.52,385.29 L454.85,384.93 L454.19,384.56 L453.53,384.20 L452.87,383.83 L452.22,383.46 L451.58,383.10 L450.94,382.75 L450.31,382.40 L449.67,382.05 L449.02,381.69 L448.36,381.33 L447.69,380.96 L447.00,380.57 L446.31,380.17 L445.61,379.75 L444.90,379.31 L444.18,378.85 L443.45,378.36 L442.74,377.84 L442.04,377.33 L441.35,376.80 L440.66,376.27 L439.97,375.71 L439.28,375.15 L438.59,374.56 L437.89,373.96 L437.20,373.34 L436.51,372.70 L435.82,372.05 L435.13,371.37 L434.43,370.67 L433.72,369.93 L433.01,369.16 L432.30,368.37 L431.60,367.57 L430.90,366.76 L430.21,365.94 L429.53,365.12 L428.86,364.31 L428.21,363.51 L427.57,362.73 L426.95,361.96 L426.34,361.23 L425.77,360.51 L425.22,359.80 L424.68,359.09 L424.14,358.39 L423.60,357.69 L423.07,356.98 L422.53,356.26 L422.00,355.52 L421.46,354.76 L420.91,353.98 L420.36,353.17 L419.80,352.32 L419.24,351.43 L418.68,350.52 L418.13,349.60 L417.59,348.68 L417.05,347.75 L416.52,346.81 L416.00,345.88 L415.48,344.95 L414.96,344.04 L414.44,343.13 L413.92,342.24 L413.40,341.36 L412.87,340.47 L412.33,339.57 L411.77,338.67 L411.21,337.75 L410.65,336.84 L410.08,335.91 L409.50,334.99 L408.93,334.06 L408.36,333.13 L407.80,332.20 L407.24,331.26 L406.69,330.33 L406.14,329.39 L405.60,328.44 L405.07,327.50 L404.55,326.56 L404.03,325.63 L403.53,324.72 L403.03,323.82 L402.55,322.95 L402.08,322.11 L401.61,321.30 L401.17,320.53 L400.73,319.79 L400.29,319.09 L399.86,318.41 L399.44,317.75 L399.03,317.11 L398.61,316.49 L398.20,315.88 L397.79,315.28 L397.38,314.68 L396.97,314.08 L396.55,313.48 L396.13,312.87 L395.70,312.26 L395.27,311.65 L394.84,311.04 L394.39,310.41 L393.95,309.79 L393.50,309.17 L393.06,308.56 L392.62,307.97 L392.20,307.40 L391.80,306.85 L391.41,306.34 L391.05,305.87 L390.73,305.44 L390.45,305.08 L390.23,304.80 L390.04,304.56 L389.87,304.36 L389.72,304.19 L389.58,304.02 L389.41,303.84 L389.23,303.63 L389.01,303.39 L388.76,303.11 L388.48,302.78 L388.17,302.41 L387.82,301.99 L387.46,301.55 L387.09,301.09 L386.71,300.62 L386.32,300.14 L385.94,299.66 L385.55,299.18 L385.17,298.72 L384.80,298.28 L384.44,297.87 L384.10,297.49 L383.79,297.15 L383.48,296.84 L383.16,296.53 L382.83,296.22 L382.50,295.91 L382.17,295.61 L381.82,295.31 L381.47,295.01 L381.11,294.70 L380.74,294.39 L380.36,294.08 L379.97,293.75 L379.59,293.43 L379.24,293.14 L378.90,292.87 L378.56,292.59 L378.21,292.31 L377.85,292.03 L377.48,291.75 L377.10,291.45 L376.72,291.15 L376.32,290.84 L375.91,290.51 L375.49,290.17 L375.07,289.82 L374.65,289.46 L374.23,289.10 L373.81,288.72 L373.39,288.35 L372.97,287.97 L372.55,287.60 L372.15,287.24 L371.75,286.88 L371.38,286.54 L371.02,286.21 L370.68,285.91 L370.35,285.62 L370.03,285.32 L369.70,285.02 L369.40,284.74 L369.13,284.48 L368.88,284.24 L368.65,284.03 L368.57,283.71 L368.56,283.37 L368.57,283.06 L368.59,282.79 L368.64,282.54 L368.66,282.29 L368.63,282.02 L368.58,281.76 L368.57,281.54 L368.60,281.36 L368.67,281.21 L368.78,281.10 L368.96,281.02 L369.19,280.93 L369.45,280.81 L369.71,280.66 L369.90,280.47 L369.95,280.30 L369.89,280.18 L369.79,280.09 L369.69,280.00 L369.58,279.94 L369.44,279.90 L369.29,279.91 L369.12,279.97 L368.94,280.09 L368.75,280.25 L368.57,280.48 L368.47,280.78 L368.38,281.14 L368.29,281.55 L368.21,282.01 L368.12,282.53 L368.03,283.08 L367.95,283.68 L367.87,284.30 L367.79,284.95 L367.71,285.62 L367.63,286.30 L367.55,286.99 L367.48,287.68 L367.40,288.37 L367.32,289.06 L367.24,289.76 L367.16,290.48 L367.09,291.21 L367.01,291.95 L366.93,292.70 L366.86,293.47 L366.79,294.25 L366.71,295.03 L366.64,295.83 L366.57,296.64 L366.50,297.45 L366.43,298.27 L366.36,299.09 L366.29,299.91 L366.22,300.74 L366.15,301.59 L366.09,302.44 L366.02,303.31 L365.95,304.20 L365.89,305.12 L365.83,306.06 L365.76,307.03 L365.70,308.04 L365.64,309.07 L365.58,310.11 L365.52,311.18 L365.47,312.26 L365.41,313.37 L365.36,314.50 L365.30,315.67 L365.24,316.87 L365.19,318.10 L365.13,319.37 L365.06,320.68 L365.00,322.03 L364.93,323.44 L364.86,324.91 L364.79,326.43 L364.72,327.99 L364.65,329.59 L364.57,331.22 L364.50,332.86 L364.42,334.51 L364.34,336.16 L364.26,337.81 L364.18,339.43 L364.10,341.03 L364.01,342.63 L363.92,344.25 L363.83,345.88 L363.74,347.52 L363.64,349.15 L363.54,350.79 L363.45,352.40 L363.35,354.00 L363.26,355.57 L363.17,357.10 L363.08,358.59 L363.00,360.03 L362.92,361.42 L362.85,362.75 L362.79,364.04 L362.73,365.29 L362.67,366.51 L362.61,367.72 L362.55,368.91 L362.49,370.11 L362.43,371.31 L362.36,372.52 L362.28,373.77 L362.20,375.04 L362.11,376.37 L362.01,377.74 L361.90,379.16 L361.79,380.60 L361.68,382.05 L361.57,383.49 L361.45,384.90 L361.33,386.27 L361.22,387.59 L361.11,388.84 L361.00,390.00 L360.90,391.06 L360.80,392.01 L360.71,392.88 L360.62,393.67 L360.53,394.39 L360.45,395.05 L360.36,395.68 L360.28,396.27 L360.19,396.84 L360.10,397.39 L360.00,397.95 L359.90,398.52 L359.79,399.11 L359.68,399.72 L359.56,400.33 L359.43,400.94 L359.31,401.54 L359.18,402.14 L359.05,402.72 L358.91,403.28 L358.77,403.83 L358.62,404.35 L358.47,404.84 L358.32,405.30 L358.16,405.72 L358.00,406.10 L357.84,406.45 L357.69,406.77 L357.53,407.07 L357.36,407.34 L357.18,407.60 L356.98,407.83 L356.77,408.05 L356.55,408.24 L356.30,408.42 L356.05,408.59 L355.76,408.74 L355.41,408.88 L355.03,408.99 L354.63,409.06 L354.22,409.12 L353.80,409.15 L353.39,409.17 L352.99,409.18 L352.61,409.18 L352.26,409.18 L351.96,409.18 L351.72,409.19 L351.54,409.20 Z" fill="#b9b9b9"/>
<path d="M351.50,408.60 L351.70,408.59 L351.96,408.58 L352.26,408.58 L352.61,408.58 L352.98,408.58 L353.37,408.57 L353.77,408.55 L354.16,408.52 L354.54,408.47 L354.90,408.40 L355.22,408.32 L355.50,408.20 L355.74,408.07 L355.97,407.93 L356.17,407.78 L356.36,407.61 L356.54,407.43 L356.70,407.23 L356.86,407.01 L357.01,406.77 L357.15,406.50 L357.30,406.20 L357.45,405.87 L357.60,405.50 L357.75,405.10 L357.90,404.65 L358.05,404.18 L358.19,403.67 L358.33,403.14 L358.46,402.58 L358.59,402.01 L358.72,401.42 L358.85,400.82 L358.97,400.21 L359.09,399.61 L359.20,399.00 L359.31,398.41 L359.41,397.85 L359.51,397.29 L359.60,396.74 L359.68,396.18 L359.77,395.59 L359.85,394.98 L359.94,394.31 L360.02,393.60 L360.11,392.81 L360.20,391.95 L360.30,391.00 L360.40,389.94 L360.51,388.78 L360.62,387.54 L360.74,386.22 L360.85,384.85 L360.97,383.44 L361.08,382.00 L361.20,380.56 L361.31,379.12 L361.41,377.70 L361.51,376.32 L361.60,375.00 L361.68,373.73 L361.76,372.49 L361.83,371.27 L361.89,370.07 L361.95,368.88 L362.01,367.69 L362.07,366.48 L362.13,365.26 L362.19,364.01 L362.26,362.72 L362.32,361.39 L362.40,360.00 L362.48,358.56 L362.57,357.06 L362.66,355.53 L362.75,353.96 L362.85,352.37 L362.94,350.75 L363.04,349.12 L363.14,347.48 L363.23,345.84 L363.32,344.21 L363.41,342.60 L363.50,341.00 L363.58,339.40 L363.66,337.78 L363.74,336.13 L363.82,334.48 L363.90,332.83 L363.97,331.19 L364.05,329.56 L364.12,327.96 L364.19,326.40 L364.26,324.88 L364.33,323.41 L364.40,322.00 L364.47,320.65 L364.53,319.34 L364.59,318.07 L364.64,316.84 L364.70,315.64 L364.76,314.47 L364.81,313.34 L364.87,312.23 L364.92,311.14 L364.98,310.08 L365.04,309.03 L365.10,308.00 L365.16,306.99 L365.23,306.02 L365.29,305.08 L365.36,304.16 L365.42,303.27 L365.49,302.39 L365.55,301.54 L365.62,300.70 L365.69,299.86 L365.76,299.04 L365.83,298.22 L365.90,297.40 L365.97,296.58 L366.04,295.78 L366.12,294.98 L366.19,294.19 L366.26,293.41 L366.34,292.64 L366.41,291.89 L366.49,291.14 L366.57,290.41 L366.64,289.70 L366.72,288.99 L366.80,288.30 L366.88,287.61 L366.96,286.92 L367.04,286.23 L367.11,285.55 L367.19,284.88 L367.28,284.23 L367.36,283.60 L367.44,283.00 L367.53,282.43 L367.61,281.91 L367.71,281.43 L367.80,281.00 L367.90,280.62 L367.99,280.29 L368.09,280.01 L368.20,279.76 L368.30,279.54 L368.41,279.36 L368.51,279.20 L368.63,279.07 L368.74,278.95 L368.86,278.86 L368.98,278.77 L369.10,278.70 L369.22,278.64 L369.35,278.61 L369.47,278.60 L369.59,278.61 L369.72,278.64 L369.85,278.69 L369.99,278.76 L370.13,278.84 L370.28,278.94 L370.44,279.05 L370.62,279.17 L370.80,279.30 L370.99,279.44 L371.19,279.60 L371.40,279.77 L371.61,279.96 L371.84,280.17 L372.07,280.38 L372.31,280.61 L372.56,280.85 L372.83,281.10 L373.10,281.36 L373.39,281.62 L373.70,281.90 L374.02,282.19 L374.37,282.50 L374.73,282.83 L375.11,283.17 L375.50,283.53 L375.90,283.89 L376.30,284.25 L376.71,284.61 L377.12,284.97 L377.52,285.33 L377.91,285.67 L378.30,286.00 L378.68,286.32 L379.05,286.62 L379.43,286.92 L379.80,287.22 L380.18,287.51 L380.55,287.80 L380.92,288.09 L381.30,288.38 L381.67,288.68 L382.05,288.98 L382.42,289.28 L382.80,289.60 L383.18,289.92 L383.56,290.24 L383.94,290.56 L384.33,290.88 L384.71,291.20 L385.09,291.53 L385.48,291.87 L385.86,292.21 L386.25,292.56 L386.63,292.93 L387.02,293.31 L387.40,293.70 L387.79,294.12 L388.19,294.56 L388.59,295.03 L389.00,295.51 L389.41,296.01 L389.82,296.51 L390.22,297.00 L390.61,297.49 L390.98,297.95 L391.34,298.40 L391.68,298.82 L392.00,299.20 L392.28,299.54 L392.53,299.82 L392.75,300.07 L392.95,300.30 L393.14,300.50 L393.32,300.71 L393.50,300.91 L393.69,301.14 L393.90,301.39 L394.13,301.67 L394.40,302.01 L394.70,302.40 L395.04,302.85 L395.41,303.34 L395.80,303.86 L396.22,304.42 L396.65,305.01 L397.09,305.61 L397.55,306.23 L398.00,306.87 L398.46,307.50 L398.92,308.14 L399.36,308.78 L399.80,309.40 L400.23,310.01 L400.65,310.62 L401.07,311.23 L401.50,311.84 L401.92,312.45 L402.34,313.07 L402.77,313.71 L403.20,314.36 L403.64,315.03 L404.09,315.73 L404.54,316.45 L405.00,317.20 L405.47,317.98 L405.95,318.80 L406.43,319.64 L406.91,320.51 L407.41,321.40 L407.91,322.30 L408.41,323.21 L408.92,324.13 L409.43,325.06 L409.95,325.98 L410.47,326.89 L411.00,327.80 L411.54,328.70 L412.08,329.61 L412.64,330.53 L413.20,331.44 L413.76,332.37 L414.33,333.29 L414.90,334.21 L415.47,335.13 L416.04,336.05 L416.60,336.97 L417.15,337.89 L417.70,338.80 L418.24,339.71 L418.77,340.64 L419.30,341.57 L419.83,342.50 L420.35,343.43 L420.87,344.35 L421.40,345.27 L421.91,346.17 L422.43,347.06 L422.95,347.93 L423.48,348.78 L424.00,349.60 L424.52,350.39 L425.04,351.15 L425.55,351.89 L426.06,352.60 L426.56,353.30 L427.07,353.99 L427.59,354.67 L428.11,355.36 L428.64,356.05 L429.18,356.75 L429.73,357.46 L430.30,358.20 L430.88,358.96 L431.48,359.75 L432.09,360.55 L432.71,361.36 L433.34,362.18 L433.98,363.00 L434.61,363.81 L435.26,364.61 L435.90,365.40 L436.54,366.16 L437.17,366.90 L437.80,367.60 L438.42,368.27 L439.05,368.93 L439.67,369.57 L440.30,370.19 L440.92,370.79 L441.54,371.38 L442.17,371.95 L442.79,372.50 L443.42,373.05 L444.04,373.58 L444.67,374.09 L445.30,374.60 L445.93,375.09 L446.56,375.56 L447.20,376.00 L447.83,376.44 L448.46,376.86 L449.10,377.26 L449.74,377.66 L450.37,378.05 L451.00,378.44 L451.64,378.82 L452.27,379.21 L452.90,379.60 L453.53,379.99 L454.16,380.39 L454.78,380.78 L455.41,381.17 L456.03,381.56 L456.66,381.94 L457.28,382.31 L457.90,382.67 L458.53,383.03 L459.15,383.37 L459.78,383.69 L460.40,384.00 L461.02,384.29 L461.65,384.57 L462.27,384.83 L462.89,385.09 L463.50,385.33 L464.12,385.56 L464.75,385.78 L465.37,385.99 L466.00,386.20 L466.63,386.40 L467.26,386.60 L467.90,386.80 L468.57,387.00 L469.28,387.19 L470.03,387.38 L470.80,387.57 L471.56,387.75 L472.32,387.93 L473.05,388.09 L473.74,388.24 L474.37,388.38 L474.94,388.50 L475.42,388.61 L475.80,388.70" fill="none" stroke="#1a1a1a" stroke-width="1.0"/>
<path d="M351.50,408.30 L351.67,408.29 L351.89,408.29 L352.15,408.29 L352.44,408.29 L352.76,408.28 L353.09,408.28 L353.44,408.26 L353.78,408.24 L354.11,408.20 L354.43,408.15 L354.73,408.09 L355.00,408.00 L355.25,407.91 L355.48,407.81 L355.71,407.71 L355.94,407.61 L356.15,407.49 L356.36,407.36 L356.57,407.20 L356.76,407.03 L356.95,406.82 L357.14,406.58 L357.32,406.31 L357.50,406.00 L357.67,405.65 L357.84,405.25 L358.00,404.83 L358.15,404.37 L358.30,403.88 L358.44,403.38 L358.57,402.84 L358.71,402.30 L358.84,401.73 L358.96,401.16 L359.08,400.58 L359.20,400.00 L359.31,399.43 L359.41,398.89 L359.51,398.35 L359.60,397.81 L359.69,397.26 L359.77,396.69 L359.85,396.07 L359.93,395.41 L360.02,394.68 L360.11,393.88 L360.20,392.99 L360.30,392.00 L360.41,390.89 L360.52,389.66 L360.64,388.34 L360.76,386.93 L360.89,385.45 L361.01,383.94 L361.14,382.40 L361.26,380.85 L361.38,379.32 L361.49,377.82 L361.60,376.38 L361.70,375.00 L361.79,373.69 L361.87,372.43 L361.95,371.20 L362.02,370.00 L362.09,368.81 L362.16,367.62 L362.22,366.43 L362.29,365.22 L362.36,363.98 L362.43,362.71 L362.51,361.38 L362.60,360.00 L362.69,358.56 L362.79,357.06 L362.90,355.53 L363.00,353.96 L363.11,352.37 L363.23,350.75 L363.34,349.12 L363.45,347.48 L363.57,345.84 L363.68,344.21 L363.79,342.60 L363.90,341.00 L364.01,339.39 L364.12,337.75 L364.23,336.09 L364.34,334.41 L364.45,332.73 L364.56,331.06 L364.67,329.42 L364.77,327.81 L364.88,326.26 L364.99,324.76 L365.10,323.34 L365.20,322.00 L365.30,320.73 L365.41,319.52 L365.51,318.35 L365.62,317.23 L365.72,316.16 L365.82,315.14 L365.93,314.17 L366.03,313.24 L366.12,312.36 L366.22,311.53 L366.31,310.74 L366.40,310.00 L366.48,309.34 L366.56,308.81 L366.62,308.36 L366.69,307.98 L366.75,307.65 L366.81,307.34 L366.88,307.04 L366.94,306.71 L367.02,306.33 L367.10,305.89 L367.19,305.35 L367.30,304.70 L367.42,303.95 L367.55,303.12 L367.68,302.23 L367.83,301.29 L367.98,300.30 L368.14,299.27 L368.30,298.22 L368.46,297.14 L368.62,296.06 L368.78,294.96 L368.94,293.88 L369.10,292.80 L369.26,291.71 L369.41,290.58 L369.57,289.43 L369.74,288.25 L369.90,287.06 L370.06,285.86 L370.22,284.67 L370.39,283.50 L370.54,282.34 L370.70,281.22 L370.85,280.14 L371.00,279.10 L371.14,278.09 L371.27,277.08 L371.40,276.09 L371.53,275.11 L371.65,274.15 L371.77,273.22 L371.89,272.32 L372.02,271.47 L372.15,270.66 L372.29,269.91 L372.44,269.22 L372.60,268.60 L372.77,268.04 L372.95,267.54 L373.14,267.10 L373.34,266.70 L373.54,266.35 L373.75,266.05 L373.96,265.79 L374.17,265.57 L374.38,265.38 L374.59,265.23 L374.80,265.10 L375.00,265.00 L375.20,264.93 L375.40,264.90 L375.59,264.91 L375.79,264.96 L375.98,265.04 L376.18,265.15 L376.37,265.30 L376.57,265.48 L376.77,265.69 L376.98,265.93 L377.19,266.20 L377.40,266.50 L377.62,266.83 L377.84,267.21 L378.06,267.62 L378.28,268.07 L378.50,268.55 L378.73,269.06 L378.96,269.59 L379.20,270.15 L379.44,270.72 L379.69,271.30 L379.94,271.90 L380.20,272.50 L380.47,273.12 L380.74,273.79 L381.02,274.48 L381.31,275.19 L381.60,275.93 L381.89,276.67 L382.19,277.42 L382.49,278.16 L382.79,278.90 L383.10,279.62 L383.40,280.33 L383.70,281.00 L384.00,281.65 L384.29,282.28 L384.59,282.89 L384.89,283.49 L385.18,284.08 L385.48,284.67 L385.78,285.26 L386.09,285.84 L386.41,286.44 L386.73,287.05 L387.06,287.66 L387.40,288.30 L387.75,288.95 L388.12,289.61 L388.49,290.29 L388.87,290.97 L389.26,291.65 L389.65,292.34 L390.04,293.04 L390.44,293.73 L390.84,294.43 L391.23,295.12 L391.62,295.81 L392.00,296.50 L392.38,297.18 L392.76,297.87 L393.14,298.55 L393.53,299.24 L393.91,299.92 L394.29,300.61 L394.67,301.29 L395.04,301.97 L395.41,302.66 L395.78,303.34 L396.14,304.02 L396.50,304.70 L396.85,305.38 L397.19,306.07 L397.52,306.76 L397.85,307.46 L398.17,308.15 L398.49,308.84 L398.82,309.53 L399.14,310.21 L399.47,310.88 L399.80,311.53 L400.15,312.17 L400.50,312.80 L400.86,313.39 L401.21,313.95 L401.57,314.48 L401.93,314.99 L402.29,315.49 L402.66,315.99 L403.03,316.50 L403.42,317.02 L403.82,317.58 L404.23,318.17 L404.66,318.81 L405.10,319.50 L405.57,320.25 L406.05,321.06 L406.56,321.91 L407.07,322.80 L407.60,323.71 L408.14,324.64 L408.69,325.59 L409.24,326.54 L409.79,327.48 L410.33,328.41 L410.87,329.32 L411.40,330.20 L411.92,331.05 L412.45,331.89 L412.97,332.72 L413.50,333.53 L414.02,334.35 L414.55,335.16 L415.07,335.97 L415.60,336.79 L416.12,337.62 L416.65,338.46 L417.17,339.32 L417.70,340.20 L418.22,341.11 L418.75,342.06 L419.27,343.03 L419.80,344.02 L420.32,345.02 L420.85,346.03 L421.38,347.02 L421.90,348.00 L422.43,348.96 L422.95,349.88 L423.48,350.76 L424.00,351.60 L424.52,352.38 L425.04,353.11 L425.55,353.80 L426.06,354.46 L426.56,355.10 L427.07,355.72 L427.59,356.33 L428.11,356.95 L428.64,357.57 L429.18,358.22 L429.73,358.89 L430.30,359.60 L430.88,360.35 L431.48,361.13 L432.09,361.94 L432.71,362.77 L433.34,363.61 L433.98,364.46 L434.61,365.29 L435.26,366.11 L435.90,366.91 L436.54,367.68 L437.17,368.42 L437.80,369.10 L438.42,369.74 L439.05,370.35 L439.67,370.93 L440.30,371.48 L440.92,372.01 L441.54,372.52 L442.17,373.02 L442.79,373.51 L443.42,373.98 L444.04,374.46 L444.67,374.93 L445.30,375.40 L445.93,375.87 L446.56,376.33 L447.20,376.77 L447.83,377.21 L448.46,377.64 L449.10,378.06 L449.74,378.48 L450.37,378.89 L451.00,379.30 L451.64,379.70 L452.27,380.10 L452.90,380.50 L453.53,380.90 L454.16,381.30 L454.78,381.70 L455.41,382.10 L456.03,382.49 L456.66,382.88 L457.28,383.26 L457.90,383.63 L458.53,383.99 L459.15,384.34 L459.78,384.68 L460.40,385.00 L461.02,385.31 L461.65,385.60 L462.27,385.87 L462.89,386.14 L463.50,386.40 L464.12,386.64 L464.75,386.88 L465.37,387.11 L466.00,387.34 L466.63,387.56 L467.26,387.78 L467.90,388.00 L468.57,388.22 L469.28,388.44 L470.03,388.66 L470.80,388.87 L471.56,389.08 L472.32,389.29 L473.05,389.48 L473.74,389.66 L474.37,389.82 L474.94,389.97 L475.42,390.10 L475.80,390.20" fill="none" stroke="#e0301e" stroke-width="1.9" stroke-linejoin="round"/>
<path d="M511.11,387.76 L511.21,386.79 L511.33,385.56 L511.48,384.12 L511.64,382.50 L511.81,380.74 L512.00,378.89 L512.19,376.97 L512.39,375.02 L512.58,373.09 L512.77,371.21 L512.95,369.42 L513.11,367.76 L513.27,366.19 L513.43,364.66 L513.58,363.16 L513.73,361.68 L513.88,360.21 L514.03,358.76 L514.18,357.30 L514.33,355.84 L514.47,354.36 L514.62,352.86 L514.76,351.34 L514.91,349.78 L515.05,348.18 L515.20,346.54 L515.34,344.87 L515.48,343.17 L515.62,341.46 L515.76,339.74 L515.90,338.03 L516.05,336.32 L516.19,334.63 L516.33,332.98 L516.47,331.36 L516.61,329.78 L516.75,328.25 L516.89,326.74 L517.03,325.24 L517.17,323.77 L517.31,322.32 L517.45,320.89 L517.59,319.48 L517.73,318.09 L517.87,316.72 L518.02,315.37 L518.17,314.03 L518.32,312.72 L518.47,311.43 L518.62,310.17 L518.78,308.94 L518.94,307.72 L519.10,306.53 L519.26,305.36 L519.42,304.20 L519.58,303.07 L519.75,301.95 L519.91,300.84 L520.07,299.74 L520.09,298.63 L520.11,297.53 L520.13,296.44 L520.14,295.35 L520.16,294.28 L520.18,293.22 L520.21,292.17 L520.24,291.13 L520.27,290.12 L520.30,289.12 L520.34,288.14 L520.39,287.18 L520.44,286.25 L520.49,285.34 L520.55,284.44 L520.68,283.58 L520.85,282.75 L521.02,281.93 L521.20,281.14 L521.37,280.37 L521.55,279.61 L521.72,278.88 L521.90,278.18 L522.08,277.49 L522.26,276.83 L522.44,276.19 L522.62,275.57 L522.81,274.98 L522.99,274.41 L523.18,273.86 L523.37,273.33 L523.56,272.83 L523.76,272.34 L523.95,271.87 L524.15,271.42 L524.35,270.99 L524.55,270.57 L524.75,270.16 L524.96,269.76 L525.18,269.36 L525.42,268.98 L525.66,268.60 L525.93,268.22 L526.21,267.86 L526.52,267.50 L526.85,267.15 L527.20,266.82 L527.56,266.51 L527.99,266.19 L528.50,265.86 L529.07,265.57 L529.62,265.35 L530.16,265.18 L530.65,265.07 L531.12,264.99 L531.54,264.94 L531.91,264.92 L532.25,264.90 L532.54,264.90 L532.79,264.90 L533.04,264.90 L533.34,264.91 L533.69,264.92 L534.04,264.95 L534.39,264.99 L534.73,265.05 L535.07,265.11 L535.39,265.18 L535.71,265.26 L536.02,265.35 L536.32,265.44 L536.61,265.53 L536.93,265.64 L537.29,265.77 L537.64,265.90 L537.98,266.04 L538.30,266.18 L538.61,266.32 L538.91,266.46 L539.21,266.60 L539.51,266.73 L539.83,266.88 L540.15,267.02 L540.51,267.18 L540.90,267.34 L541.32,267.52 L541.76,267.70 L542.21,267.88 L542.67,268.07 L543.16,268.27 L543.68,268.48 L544.23,268.70 L544.82,268.94 L545.47,269.20 L546.16,269.48 L546.92,269.79 L547.74,270.12 L548.64,270.48 L549.62,270.87 L550.68,271.29 L551.79,271.74 L552.96,272.20 L554.16,272.68 L555.38,273.17 L556.62,273.67 L557.86,274.17 L559.09,274.66 L560.29,275.15 L561.47,275.63 L562.62,276.10 L563.77,276.58 L564.92,277.05 L566.06,277.53 L567.21,278.01 L568.35,278.49 L569.49,278.97 L570.63,279.45 L571.77,279.92 L572.90,280.39 L574.03,280.86 L575.15,281.38 L576.28,281.91 L577.45,282.45 L578.63,283.01 L579.82,283.57 L581.02,284.12 L582.20,284.67 L583.36,285.21 L584.49,285.72 L585.58,286.22 L586.61,286.69 L587.59,287.13 L588.49,287.53 L589.30,287.88 L590.02,288.19 L590.65,288.46 L591.21,288.69 L591.73,288.91 L592.24,289.11 L592.74,289.30 L593.26,289.50 L593.83,289.71 L594.46,289.95 L595.17,290.20 L595.98,290.50 L596.86,290.81 L597.78,291.14 L598.76,291.47 L599.78,291.82 L600.84,292.18 L601.94,292.54 L603.08,292.93 L604.24,293.32 L605.43,293.72 L606.64,294.14 L607.87,294.56 L609.11,295.00 L610.38,295.46 L611.69,295.93 L613.05,296.42 L614.44,296.92 L615.85,297.44 L617.29,297.93 L618.74,298.40 L620.19,298.87 L621.63,299.34 L623.04,299.81 L624.43,300.27 L625.77,300.73 L627.13,301.19 L628.54,301.69 L629.98,302.19 L631.43,302.71 L632.86,303.23 L634.26,303.73 L635.60,304.22 L636.86,304.67 L638.01,305.10 L639.03,305.47 L639.91,305.79 L640.61,306.04 L638.99,310.56 L638.27,310.30 L637.39,309.98 L636.36,309.60 L635.21,309.18 L633.96,308.73 L632.63,308.24 L631.24,307.74 L629.81,307.23 L628.38,306.72 L626.95,306.22 L625.56,305.73 L624.23,305.27 L622.90,304.82 L621.53,304.37 L620.13,303.90 L618.70,303.44 L617.26,302.97 L615.82,302.50 L614.37,302.07 L612.93,301.68 L611.51,301.29 L610.12,300.91 L608.78,300.55 L607.49,300.20 L606.24,299.86 L605.00,299.54 L603.78,299.22 L602.58,298.91 L601.40,298.61 L600.24,298.32 L599.12,298.03 L598.02,297.75 L596.96,297.48 L595.94,297.22 L594.95,296.96 L594.02,296.70 L593.18,296.47 L592.44,296.27 L591.77,296.08 L591.16,295.91 L590.58,295.75 L590.01,295.58 L589.45,295.41 L588.86,295.23 L588.23,295.03 L587.54,294.81 L586.78,294.56 L585.91,294.27 L584.94,293.95 L583.90,293.60 L582.80,293.23 L581.65,292.84 L580.46,292.43 L579.24,292.01 L578.00,291.57 L576.75,291.14 L575.50,290.70 L574.26,290.27 L573.04,289.84 L571.85,289.42 L570.68,289.00 L569.53,288.52 L568.38,288.05 L567.24,287.57 L566.09,287.09 L564.95,286.61 L563.81,286.13 L562.67,285.65 L561.53,285.18 L560.40,284.71 L559.27,284.24 L558.13,283.77 L556.98,283.30 L555.79,282.82 L554.57,282.33 L553.34,281.84 L552.11,281.34 L550.89,280.85 L549.70,280.38 L548.53,279.91 L547.42,279.47 L546.36,279.04 L545.37,278.65 L544.46,278.28 L543.63,277.95 L542.87,277.64 L542.18,277.36 L541.53,277.10 L540.93,276.86 L540.37,276.63 L539.85,276.42 L539.35,276.22 L538.87,276.02 L538.41,275.84 L537.96,275.65 L537.50,275.46 L537.05,275.27 L536.61,275.08 L536.22,274.90 L535.86,274.74 L535.53,274.59 L535.24,274.45 L534.98,274.34 L534.75,274.23 L534.55,274.15 L534.38,274.08 L534.23,274.02 L534.07,273.96 L533.89,273.90 L533.71,273.84 L533.56,273.80 L533.45,273.77 L533.35,273.74 L533.28,273.73 L533.23,273.72 L533.19,273.71 L533.15,273.71 L533.11,273.70 L533.07,273.70 L532.96,273.70 L532.79,273.70 L532.61,273.70 L532.48,273.70 L532.38,273.70 L532.33,273.71 L532.32,273.71 L532.36,273.70 L532.44,273.68 L532.56,273.65 L532.71,273.58 L532.88,273.50 L533.01,273.41 L533.07,273.37 L533.08,273.36 L533.08,273.36 L533.07,273.37 L533.05,273.40 L533.01,273.45 L532.95,273.53 L532.88,273.64 L532.79,273.79 L532.69,273.97 L532.58,274.18 L532.45,274.43 L532.32,274.71 L532.18,275.01 L532.05,275.32 L531.91,275.65 L531.77,276.01 L531.63,276.38 L531.48,276.78 L531.34,277.20 L531.19,277.65 L531.04,278.13 L530.89,278.63 L530.74,279.17 L530.59,279.74 L530.43,280.35 L530.27,280.98 L530.11,281.65 L529.95,282.33 L529.79,283.05 L529.63,283.79 L529.47,284.55 L529.31,285.33 L529.11,286.13 L528.84,286.93 L528.56,287.75 L528.29,288.60 L528.01,289.47 L527.73,290.36 L527.45,291.29 L527.17,292.24 L526.88,293.21 L526.59,294.20 L526.30,295.20 L526.00,296.23 L525.71,297.26 L525.41,298.31 L525.11,299.37 L524.82,300.43 L524.66,301.53 L524.50,302.63 L524.34,303.75 L524.17,304.87 L524.01,306.02 L523.86,307.18 L523.70,308.35 L523.54,309.55 L523.39,310.77 L523.23,312.01 L523.08,313.28 L522.94,314.57 L522.79,315.88 L522.65,317.22 L522.51,318.58 L522.37,319.96 L522.23,321.36 L522.09,322.78 L521.95,324.23 L521.81,325.69 L521.67,327.18 L521.53,328.69 L521.39,330.22 L521.25,331.78 L521.11,333.39 L520.97,335.04 L520.83,336.72 L520.69,338.42 L520.55,340.13 L520.41,341.85 L520.27,343.57 L520.12,345.27 L519.98,346.95 L519.84,348.61 L519.69,350.22 L519.54,351.79 L519.40,353.32 L519.25,354.83 L519.10,356.31 L518.96,357.78 L518.81,359.24 L518.66,360.70 L518.51,362.17 L518.35,363.65 L518.20,365.15 L518.05,366.68 L517.89,368.24 L517.72,369.90 L517.54,371.69 L517.36,373.57 L517.16,375.50 L516.97,377.44 L516.78,379.36 L516.59,381.22 L516.41,382.98 L516.25,384.60 L516.11,386.04 L515.99,387.27 L515.89,388.24 Z" fill="#dadde0"/>
<path d="M512.70,387.92 L512.80,386.95 L512.92,385.72 L513.07,384.28 L513.23,382.66 L513.41,380.90 L513.59,379.05 L513.78,377.12 L513.98,375.18 L514.17,373.25 L514.36,371.37 L514.54,369.58 L514.70,367.92 L514.86,366.36 L515.02,364.83 L515.17,363.32 L515.32,361.84 L515.47,360.38 L515.62,358.92 L515.77,357.46 L515.92,355.99 L516.07,354.52 L516.21,353.02 L516.36,351.49 L516.50,349.93 L516.65,348.32 L516.79,346.68 L516.93,345.00 L517.08,343.30 L517.22,341.59 L517.36,339.87 L517.50,338.16 L517.64,336.45 L517.78,334.77 L517.92,333.11 L518.06,331.50 L518.20,329.93 L518.34,328.40 L518.48,326.88 L518.62,325.39 L518.76,323.92 L518.90,322.48 L519.04,321.05 L519.18,319.64 L519.32,318.25 L519.47,316.88 L519.61,315.54 L519.76,314.21 L519.91,312.91 L520.06,311.63 L520.21,310.37 L520.37,309.14 L520.53,307.93 L520.68,306.75 L520.85,305.58 L521.01,304.43 L521.17,303.29 L521.33,302.17 L521.49,301.07 L521.65,299.97 L521.81,298.88 L521.97,297.80 L522.12,296.73 L522.28,295.67 L522.44,294.62 L522.60,293.59 L522.75,292.56 L522.91,291.56 L523.07,290.58 L523.23,289.61 L523.39,288.67 L523.55,287.75 L523.71,286.85 L523.88,285.98 L524.04,285.13 L524.21,284.30 L524.38,283.48 L524.54,282.69 L524.71,281.92 L524.88,281.17 L525.05,280.44 L525.22,279.74 L525.39,279.07 L525.56,278.41 L525.73,277.79 L525.90,277.19 L526.07,276.62 L526.24,276.07 L526.41,275.55 L526.58,275.05 L526.75,274.58 L526.92,274.13 L527.09,273.69 L527.26,273.28 L527.44,272.89 L527.61,272.51 L527.78,272.15 L527.95,271.80 L528.12,271.48 L528.30,271.17 L528.47,270.89 L528.65,270.62 L528.83,270.36 L529.01,270.12 L529.20,269.90 L529.40,269.69 L529.60,269.50 L529.82,269.31 L530.04,269.14 L530.29,268.98 L530.56,268.85 L530.82,268.74 L531.09,268.66 L531.35,268.60 L531.61,268.56 L531.86,268.53 L532.17,269.81 L532.38,269.80 L532.58,269.80 L532.79,269.80 L533.00,269.80 L533.19,269.80 L533.37,269.81 L533.55,269.83 L533.72,269.85 L533.90,269.87 L534.07,269.91 L534.26,269.95 L534.45,270.00 L534.65,270.05 L534.87,270.12 L535.09,270.19 L535.34,270.27 L535.58,270.36 L535.82,270.45 L536.07,270.55 L536.32,270.66 L536.59,270.78 L536.87,270.91 L537.16,271.05 L537.48,271.19 L537.82,271.35 L538.18,271.51 L538.58,271.68 L539.01,271.86 L539.45,272.04 L539.90,272.23 L540.35,272.42 L540.82,272.61 L541.32,272.81 L541.84,273.02 L542.39,273.24 L542.99,273.49 L543.63,273.75 L544.33,274.03 L545.09,274.33 L545.91,274.66 L546.82,275.03 L547.80,275.42 L548.86,275.84 L549.98,276.29 L551.14,276.75 L552.34,277.23 L553.56,277.72 L554.80,278.22 L556.03,278.71 L557.25,279.20 L558.45,279.69 L559.61,280.16 L560.75,280.63 L561.89,281.10 L563.03,281.58 L564.17,282.05 L565.31,282.53 L566.46,283.01 L567.60,283.49 L568.74,283.97 L569.88,284.45 L571.03,284.92 L572.17,285.39 L573.31,285.86 L574.47,286.34 L575.66,286.82 L576.87,287.32 L578.10,287.82 L579.32,288.31 L580.53,288.80 L581.72,289.28 L582.89,289.75 L584.01,290.19 L585.08,290.61 L586.08,291.01 L587.02,291.37 L587.86,291.69 L588.60,291.97 L589.26,292.21 L589.86,292.43 L590.42,292.63 L590.96,292.82 L591.50,293.00 L592.06,293.18 L592.65,293.38 L593.30,293.58 L594.02,293.81 L594.85,294.08 L595.76,294.36 L596.71,294.65 L597.72,294.95 L598.76,295.26 L599.84,295.58 L600.95,295.91 L602.10,296.25 L603.27,296.59 L604.46,296.95 L605.68,297.32 L606.91,297.69 L608.15,298.08 L609.43,298.48 L610.76,298.90 L612.13,299.33 L613.53,299.78 L614.96,300.23 L616.40,300.69 L617.85,301.16 L619.29,301.63 L620.72,302.10 L622.13,302.56 L623.50,303.02 L624.84,303.47 L626.18,303.93 L627.58,304.42 L629.01,304.93 L630.45,305.44 L631.88,305.95 L633.27,306.46 L634.61,306.94 L635.86,307.40 L637.01,307.82 L638.04,308.19 L638.92,308.51 L639.63,308.77 L638.17,312.82 L637.46,312.56 L636.57,312.23 L635.54,311.86 L634.39,311.44 L633.14,310.98 L631.81,310.50 L630.42,310.00 L629.00,309.49 L627.58,308.98 L626.16,308.48 L624.78,308.00 L623.45,307.54 L622.14,307.10 L620.77,306.65 L619.38,306.18 L617.96,305.72 L616.52,305.25 L615.09,304.79 L613.65,304.33 L612.23,303.87 L610.83,303.43 L609.46,303.00 L608.14,302.58 L606.87,302.18 L605.64,301.80 L604.43,301.43 L603.23,301.07 L602.05,300.72 L600.88,300.37 L599.74,300.04 L598.62,299.71 L597.54,299.39 L596.48,299.07 L595.47,298.77 L594.49,298.47 L593.56,298.18 L592.72,297.91 L591.99,297.68 L591.33,297.47 L590.72,297.27 L590.13,297.08 L589.57,296.88 L589.00,296.69 L588.40,296.47 L587.78,296.25 L587.10,295.99 L586.34,295.71 L585.49,295.38 L584.53,295.02 L583.51,294.62 L582.42,294.19 L581.29,293.74 L580.12,293.27 L578.92,292.79 L577.71,292.30 L576.48,291.80 L575.25,291.30 L574.04,290.80 L572.85,290.32 L571.68,289.84 L570.53,289.37 L569.38,288.89 L568.23,288.41 L567.08,287.94 L565.94,287.46 L564.79,286.98 L563.65,286.50 L562.51,286.02 L561.38,285.55 L560.24,285.07 L559.11,284.61 L557.98,284.14 L556.83,283.67 L555.64,283.19 L554.42,282.70 L553.19,282.21 L551.96,281.71 L550.74,281.23 L549.55,280.75 L548.38,280.28 L547.27,279.84 L546.21,279.41 L545.22,279.02 L544.31,278.65 L543.48,278.32 L542.73,278.02 L542.03,277.73 L541.38,277.47 L540.78,277.23 L540.22,277.01 L539.70,276.79 L539.20,276.59 L538.72,276.39 L538.26,276.21 L538.31,274.82 L537.85,274.63 L537.40,274.44 L536.98,274.26 L536.59,274.08 L536.23,273.92 L535.91,273.77 L535.61,273.64 L535.35,273.52 L535.11,273.41 L534.90,273.32 L534.71,273.24 L534.54,273.17 L534.36,273.11 L534.16,273.04 L533.98,272.98 L533.81,272.94 L533.68,272.90 L533.56,272.87 L533.46,272.85 L533.38,272.83 L533.31,272.82 L533.24,272.81 L533.17,272.81 L533.09,272.80 L532.97,272.80 L532.79,272.80 L532.61,272.80 L532.45,272.80 L532.33,272.81 L532.25,272.81 L532.20,272.82 L532.18,272.82 L532.20,272.81 L532.26,272.80 L532.34,272.76 L532.43,272.71 L532.50,272.67 L532.50,272.67 L532.48,272.69 L532.45,272.72 L532.40,272.77 L532.35,272.83 L532.28,272.92 L532.21,273.03 L532.12,273.17 L532.01,273.34 L531.90,273.54 L531.78,273.77 L531.64,274.04 L531.50,274.33 L531.36,274.64 L531.22,274.97 L531.08,275.31 L530.93,275.68 L530.78,276.07 L530.63,276.48 L530.49,276.92 L530.33,277.38 L530.18,277.87 L530.03,278.38 L529.87,278.93 L529.72,279.51 L529.56,280.13 L529.40,280.77 L529.24,281.44 L529.07,282.13 L528.91,282.85 L528.75,283.60 L528.59,284.36 L528.42,285.15 L528.26,285.96 L528.10,286.79 L527.94,287.64 L527.78,288.50 L527.63,289.40 L527.47,290.32 L526.43,291.12 L526.27,292.09 L526.11,293.09 L525.96,294.10 L525.80,295.13 L525.64,296.17 L525.49,297.23 L525.33,298.30 L525.17,299.38 L525.01,300.46 L524.85,301.56 L524.69,302.66 L524.53,303.78 L524.37,304.90 L524.21,306.04 L524.05,307.20 L523.90,308.38 L523.74,309.57 L523.59,310.79 L523.43,312.03 L523.28,313.30 L523.14,314.59 L522.99,315.91 L522.85,317.24 L522.70,318.60 L522.56,319.98 L522.42,321.38 L522.29,322.80 L522.15,324.25 L522.01,325.71 L521.87,327.20 L521.73,328.71 L521.59,330.24 L521.45,331.80 L521.31,333.41 L521.17,335.05 L521.03,336.73 L520.89,338.43 L520.75,340.15 L520.61,341.87 L520.47,343.59 L520.32,345.29 L520.18,346.97 L520.03,348.62 L519.89,350.24 L519.74,351.81 L519.60,353.34 L519.45,354.85 L519.30,356.33 L519.15,357.80 L519.01,359.26 L518.86,360.72 L518.70,362.19 L518.55,363.67 L518.40,365.17 L518.24,366.70 L518.09,368.26 L517.92,369.92 L517.74,371.71 L517.55,373.59 L517.36,375.52 L517.17,377.46 L516.97,379.38 L516.79,381.24 L516.61,383.00 L516.45,384.62 L516.31,386.06 L516.18,387.29 L516.09,388.26 Z" fill="#c9cbcd"/>
<path d="M513.50,388.00 L513.60,387.03 L513.72,385.80 L513.86,384.36 L514.03,382.74 L514.20,380.98 L514.39,379.12 L514.58,377.20 L514.77,375.26 L514.97,373.33 L515.16,371.45 L515.33,369.66 L515.50,368.00 L515.66,366.44 L515.81,364.91 L515.97,363.41 L516.12,361.93 L516.27,360.46 L516.42,359.00 L516.57,357.54 L516.71,356.07 L516.86,354.59 L517.01,353.09 L517.15,351.56 L517.30,350.00 L517.45,348.39 L517.59,346.75 L517.73,345.07 L517.87,343.37 L518.02,341.66 L518.16,339.94 L518.30,338.22 L518.44,336.52 L518.58,334.84 L518.72,333.18 L518.86,331.57 L519.00,330.00 L519.14,328.47 L519.28,326.96 L519.42,325.47 L519.56,324.00 L519.70,322.55 L519.84,321.12 L519.98,319.72 L520.12,318.33 L520.26,316.97 L520.41,315.62 L520.55,314.30 L520.70,313.00 L520.85,311.72 L521.01,310.47 L521.16,309.24 L521.32,308.04 L521.48,306.85 L521.64,305.69 L521.80,304.54 L521.96,303.41 L522.12,302.29 L522.28,301.18 L522.44,300.09 L522.60,299.00 L522.76,297.92 L522.92,296.85 L523.07,295.79 L523.23,294.74 L523.39,293.71 L523.54,292.69 L523.70,291.69 L523.86,290.70 L524.02,289.74 L524.18,288.80 L524.34,287.89 L524.50,287.00 L524.66,286.13 L524.83,285.29 L524.99,284.46 L525.16,283.65 L525.33,282.86 L525.49,282.09 L525.66,281.35 L525.83,280.63 L526.00,279.93 L526.17,279.26 L526.33,278.62 L526.50,278.00 L526.67,277.41 L526.83,276.85 L527.00,276.31 L527.17,275.80 L527.33,275.32 L527.50,274.86 L527.67,274.42 L527.83,274.00 L528.00,273.60 L528.17,273.21 L528.33,272.85 L528.50,272.50 L528.67,272.17 L528.83,271.86 L528.99,271.58 L529.15,271.31 L529.31,271.07 L529.47,270.84 L529.63,270.63 L529.80,270.43 L529.96,270.25 L530.14,270.09 L530.32,269.94 L530.50,269.80 L530.69,269.68 L530.89,269.58 L531.09,269.50 L531.30,269.43 L531.51,269.39 L531.72,269.35 L531.93,269.33 L532.15,269.31 L532.36,269.30 L532.58,269.30 L532.79,269.30 L533.00,269.30 L533.20,269.30 L533.40,269.31 L533.60,269.33 L533.79,269.35 L533.98,269.38 L534.18,269.42 L534.37,269.46 L534.58,269.51 L534.79,269.57 L535.01,269.64 L535.25,269.72 L535.50,269.80 L535.76,269.89 L536.01,269.99 L536.27,270.09 L536.53,270.21 L536.79,270.33 L537.07,270.46 L537.37,270.59 L537.69,270.74 L538.02,270.89 L538.38,271.05 L538.78,271.22 L539.20,271.40 L539.64,271.58 L540.09,271.77 L540.54,271.95 L541.01,272.14 L541.50,272.34 L542.03,272.56 L542.58,272.78 L543.18,273.02 L543.82,273.28 L544.52,273.56 L545.28,273.87 L546.10,274.20 L547.00,274.56 L547.99,274.96 L549.05,275.38 L550.16,275.83 L551.33,276.29 L552.53,276.77 L553.75,277.26 L554.98,277.75 L556.22,278.25 L557.44,278.74 L558.64,279.23 L559.80,279.70 L560.94,280.17 L562.08,280.64 L563.22,281.12 L564.37,281.59 L565.51,282.07 L566.65,282.55 L567.79,283.03 L568.93,283.51 L570.07,283.98 L571.22,284.46 L572.36,284.93 L573.50,285.40 L574.66,285.87 L575.85,286.36 L577.06,286.85 L578.29,287.35 L579.51,287.85 L580.72,288.34 L581.91,288.82 L583.07,289.28 L584.19,289.73 L585.26,290.15 L586.26,290.54 L587.20,290.90 L588.04,291.22 L588.78,291.50 L589.44,291.74 L590.03,291.96 L590.59,292.16 L591.12,292.34 L591.66,292.52 L592.21,292.71 L592.80,292.90 L593.45,293.11 L594.18,293.34 L595.00,293.60 L595.90,293.88 L596.86,294.18 L597.86,294.48 L598.90,294.79 L599.98,295.10 L601.09,295.43 L602.24,295.77 L603.41,296.11 L604.61,296.47 L605.82,296.84 L607.06,297.21 L608.30,297.60 L609.58,298.00 L610.91,298.42 L612.28,298.85 L613.69,299.30 L615.11,299.76 L616.56,300.22 L618.00,300.69 L619.45,301.16 L620.88,301.62 L622.29,302.09 L623.66,302.55 L625.00,303.00 L626.35,303.46 L627.75,303.95 L629.18,304.46 L630.62,304.97 L632.05,305.48 L633.44,305.99 L634.78,306.47 L636.03,306.93 L637.19,307.35 L638.21,307.72 L639.09,308.04 L639.80,308.30" fill="none" stroke="#9aa0aa" stroke-width="0.8"/>
<path d="M528.50,273.40 L528.60,273.26 L528.71,273.08 L528.85,272.86 L529.00,272.62 L529.17,272.36 L529.34,272.08 L529.53,271.81 L529.72,271.54 L529.92,271.28 L530.11,271.05 L530.31,270.86 L530.50,270.70 L530.69,270.58 L530.89,270.48 L531.09,270.40 L531.30,270.33 L531.51,270.29 L531.72,270.25 L531.93,270.23 L532.15,270.21 L532.36,270.20 L532.58,270.20 L532.79,270.20 L533.00,270.20 L533.20,270.20 L533.40,270.21 L533.60,270.23 L533.79,270.25 L533.98,270.28 L534.18,270.32 L534.37,270.36 L534.58,270.41 L534.79,270.47 L535.01,270.54 L535.25,270.62 L535.50,270.70 L535.76,270.79 L536.01,270.89 L536.27,270.99 L536.53,271.11 L536.79,271.23 L537.07,271.36 L537.37,271.49 L537.69,271.64 L538.02,271.79 L538.38,271.95 L538.78,272.12 L539.20,272.30 L539.64,272.48 L540.09,272.67 L540.54,272.85 L541.01,273.04 L541.50,273.24 L542.03,273.46 L542.58,273.68 L543.18,273.92 L543.82,274.18 L544.52,274.46 L545.28,274.77 L546.10,275.10 L547.00,275.46 L547.99,275.86 L549.05,276.28 L550.16,276.73 L551.33,277.19 L552.53,277.67 L553.75,278.16 L554.98,278.65 L556.22,279.15 L557.44,279.64 L558.64,280.13 L559.80,280.60 L560.94,281.07 L562.08,281.54 L563.22,282.02 L564.37,282.49 L565.51,282.97 L566.65,283.45 L567.79,283.93 L568.93,284.41 L570.07,284.88 L571.22,285.36 L572.36,285.83 L573.50,286.30 L574.66,286.77 L575.85,287.26 L577.06,287.75 L578.29,288.25 L579.51,288.75 L580.72,289.24 L581.91,289.72 L583.07,290.18 L584.19,290.63 L585.26,291.05 L586.26,291.44 L587.20,291.80 L588.04,292.12 L588.78,292.40 L589.44,292.64 L590.03,292.86 L590.59,293.06 L591.12,293.24 L591.66,293.42 L592.21,293.61 L592.80,293.80 L593.45,294.01 L594.18,294.24 L595.00,294.50 L595.90,294.78 L596.86,295.08 L597.86,295.38 L598.90,295.69 L599.98,296.00 L601.09,296.33 L602.24,296.67 L603.41,297.01 L604.61,297.37 L605.82,297.74 L607.06,298.11 L608.30,298.50 L609.58,298.90 L610.91,299.32 L612.28,299.75 L613.69,300.20 L615.11,300.66 L616.56,301.12 L618.00,301.59 L619.45,302.06 L620.88,302.52 L622.29,302.99 L623.66,303.45 L625.00,303.90 L626.35,304.36 L627.75,304.85 L629.18,305.36 L630.62,305.87 L632.05,306.38 L633.44,306.89 L634.78,307.37 L636.03,307.83 L637.19,308.25 L638.21,308.62 L639.09,308.94 L639.80,309.20" fill="none" stroke="#7083c8" stroke-width="0.9"/>
<path d="M528.50,272.50 L528.60,272.36 L528.71,272.18 L528.85,271.96 L529.00,271.72 L529.17,271.46 L529.34,271.18 L529.53,270.91 L529.72,270.64 L529.92,270.38 L530.11,270.15 L530.31,269.96 L530.50,269.80 L530.69,269.68 L530.89,269.58 L531.09,269.50 L531.30,269.43 L531.51,269.39 L531.72,269.35 L531.93,269.33 L532.15,269.31 L532.36,269.30 L532.58,269.30 L532.79,269.30 L533.00,269.30 L533.20,269.30 L533.40,269.31 L533.60,269.33 L533.79,269.35 L533.98,269.38 L534.18,269.42 L534.37,269.46 L534.58,269.51 L534.79,269.57 L535.01,269.64 L535.25,269.72 L535.50,269.80 L535.76,269.89 L536.01,269.99 L536.27,270.09 L536.53,270.21 L536.79,270.33 L537.07,270.46 L537.37,270.59 L537.69,270.74 L538.02,270.89 L538.38,271.05 L538.78,271.22 L539.20,271.40 L539.64,271.58 L540.09,271.77 L540.54,271.95 L541.01,272.14 L541.50,272.34 L542.03,272.56 L542.58,272.78 L543.18,273.02 L543.82,273.28 L544.52,273.56 L545.28,273.87 L546.10,274.20 L547.00,274.56 L547.99,274.96 L549.05,275.38 L550.16,275.83 L551.33,276.29 L552.53,276.77 L553.75,277.26 L554.98,277.75 L556.22,278.25 L557.44,278.74 L558.64,279.23 L559.80,279.70 L560.94,280.17 L562.08,280.64 L563.22,281.12 L564.37,281.59 L565.51,282.07 L566.65,282.55 L567.79,283.03 L568.93,283.51 L570.07,283.98 L571.22,284.46 L572.36,284.93 L573.50,285.40 L574.66,285.87 L575.85,286.36 L577.06,286.85 L578.29,287.35 L579.51,287.85 L580.72,288.34 L581.91,288.82 L583.07,289.28 L584.19,289.73 L585.26,290.15 L586.26,290.54 L587.20,290.90 L588.04,291.22 L588.78,291.50 L589.44,291.74 L590.03,291.96 L590.59,292.16 L591.12,292.34 L591.66,292.52 L592.21,292.71 L592.80,292.90 L593.45,293.11 L594.18,293.34 L595.00,293.60 L595.90,293.88 L596.86,294.18 L597.86,294.48 L598.90,294.79 L599.98,295.10 L601.09,295.43 L602.24,295.77 L603.41,296.11 L604.61,296.47 L605.82,296.84 L607.06,297.21 L608.30,297.60 L609.58,298.00 L610.91,298.42 L612.28,298.85 L613.69,299.30 L615.11,299.76 L616.56,300.22 L618.00,300.69 L619.45,301.16 L620.88,301.62 L622.29,302.09 L623.66,302.55 L625.00,303.00 L626.35,303.46 L627.75,303.95 L629.18,304.46 L630.62,304.97 L632.05,305.48 L633.44,305.99 L634.78,306.47 L636.03,306.93 L637.19,307.35 L638.21,307.72 L639.09,308.04 L639.80,308.30" fill="none" stroke="#111" stroke-width="1.0"/>
<path d="M513.30,386.30 L513.43,385.41 L513.60,384.31 L513.80,383.00 L514.02,381.54 L514.26,379.96 L514.51,378.28 L514.77,376.53 L515.04,374.76 L515.30,372.98 L515.55,371.24 L515.78,369.57 L516.00,368.00 L516.20,366.50 L516.40,365.01 L516.59,363.53 L516.78,362.05 L516.96,360.58 L517.14,359.11 L517.32,357.63 L517.50,356.14 L517.68,354.63 L517.85,353.11 L518.03,351.57 L518.20,350.00 L518.37,348.39 L518.54,346.74 L518.71,345.05 L518.88,343.34 L519.04,341.61 L519.21,339.88 L519.37,338.16 L519.53,336.45 L519.70,334.77 L519.86,333.13 L520.03,331.54 L520.20,330.00 L520.37,328.52 L520.54,327.08 L520.71,325.67 L520.88,324.30 L521.05,322.95 L521.22,321.62 L521.39,320.32 L521.57,319.03 L521.74,317.74 L521.93,316.46 L522.11,315.18 L522.30,313.90 L522.49,312.62 L522.69,311.34 L522.90,310.07 L523.10,308.81 L523.31,307.56 L523.52,306.31 L523.74,305.08 L523.95,303.86 L524.17,302.65 L524.38,301.45 L524.59,300.27 L524.80,299.10 L525.01,297.94 L525.22,296.78 L525.43,295.63 L525.64,294.49 L525.85,293.36 L526.06,292.24 L526.27,291.15 L526.47,290.07 L526.68,289.01 L526.89,287.98 L527.10,286.97 L527.30,286.00 L527.50,285.06 L527.70,284.14 L527.89,283.24 L528.07,282.37 L528.26,281.52 L528.45,280.69 L528.64,279.89 L528.84,279.10 L529.04,278.32 L529.25,277.57 L529.47,276.83 L529.70,276.10 L529.94,275.38 L530.19,274.67 L530.44,273.98 L530.70,273.30 L530.97,272.63 L531.24,271.99 L531.52,271.37 L531.81,270.77 L532.10,270.20 L532.39,269.67 L532.69,269.17 L533.00,268.70 L533.31,268.27 L533.63,267.89 L533.95,267.54 L534.28,267.22 L534.61,266.93 L534.95,266.66 L535.29,266.42 L535.64,266.19 L536.00,265.98 L536.36,265.78 L536.73,265.59 L537.10,265.40 L537.48,265.22 L537.88,265.06 L538.29,264.92 L538.71,264.79 L539.13,264.68 L539.56,264.57 L539.98,264.49 L540.40,264.41 L540.82,264.35 L541.23,264.29 L541.62,264.24 L542.00,264.20 L542.36,264.17 L542.72,264.16 L543.06,264.17 L543.40,264.19 L543.73,264.21 L544.06,264.25 L544.38,264.29 L544.70,264.34 L545.02,264.38 L545.34,264.43 L545.67,264.47 L546.00,264.50 L546.32,264.53 L546.63,264.55 L546.93,264.56 L547.22,264.58 L547.51,264.59 L547.81,264.61 L548.12,264.64 L548.44,264.67 L548.79,264.71 L549.16,264.76 L549.56,264.82 L550.00,264.90 L550.48,264.99 L550.99,265.10 L551.54,265.22 L552.11,265.36 L552.71,265.50 L553.32,265.64 L553.94,265.80 L554.56,265.96 L555.19,266.12 L555.80,266.28 L556.41,266.44 L557.00,266.60 L557.58,266.76 L558.17,266.91 L558.76,267.07 L559.36,267.22 L559.95,267.38 L560.54,267.54 L561.13,267.71 L561.71,267.89 L562.28,268.07 L562.83,268.27 L563.37,268.48 L563.90,268.70 L564.40,268.93 L564.88,269.18 L565.34,269.43 L565.79,269.69 L566.23,269.95 L566.66,270.23 L567.09,270.52 L567.52,270.81 L567.97,271.12 L568.42,271.44 L568.90,271.76 L569.40,272.10 L569.92,272.45 L570.45,272.83 L571.00,273.23 L571.56,273.64 L572.13,274.06 L572.70,274.48 L573.28,274.91 L573.86,275.33 L574.45,275.74 L575.03,276.15 L575.62,276.53 L576.20,276.90 L576.78,277.24 L577.36,277.55 L577.93,277.85 L578.51,278.13 L579.09,278.41 L579.68,278.68 L580.26,278.96 L580.86,279.24 L581.45,279.55 L582.06,279.87 L582.68,280.22 L583.30,280.60 L583.94,281.02 L584.59,281.49 L585.26,281.98 L585.94,282.50 L586.62,283.04 L587.31,283.58 L587.99,284.12 L588.67,284.65 L589.35,285.16 L590.01,285.65 L590.67,286.10 L591.30,286.50 L591.91,286.87 L592.51,287.21 L593.09,287.52 L593.66,287.82 L594.22,288.10 L594.77,288.36 L595.33,288.60 L595.90,288.84 L596.47,289.06 L597.06,289.28 L597.67,289.49 L598.30,289.70 L598.96,289.90 L599.64,290.07 L600.34,290.23 L601.06,290.37 L601.79,290.50 L602.52,290.63 L603.26,290.76 L603.98,290.89 L604.69,291.02 L605.39,291.16 L606.06,291.32 L606.70,291.50 L607.30,291.68 L607.86,291.86 L608.40,292.04 L608.91,292.22 L609.41,292.40 L609.90,292.60 L610.40,292.81 L610.91,293.04 L611.45,293.29 L612.02,293.56 L612.64,293.86 L613.30,294.20 L614.02,294.58 L614.79,295.02 L615.60,295.50 L616.44,296.01 L617.31,296.54 L618.19,297.08 L619.07,297.62 L619.96,298.16 L620.83,298.67 L621.69,299.16 L622.51,299.60 L623.30,300.00 L624.06,300.35 L624.80,300.68 L625.52,300.98 L626.23,301.26 L626.93,301.51 L627.62,301.76 L628.30,301.98 L628.98,302.20 L629.66,302.41 L630.34,302.61 L631.02,302.80 L631.70,303.00 L632.41,303.19 L633.16,303.38 L633.94,303.56 L634.72,303.73 L635.51,303.89 L636.28,304.04 L637.01,304.18 L637.71,304.31 L638.35,304.43 L638.92,304.53 L639.41,304.62 L639.80,304.70" fill="none" stroke="#e0301e" stroke-width="1.9" stroke-linejoin="round"/>
<text font-size="15" text-anchor="end" transform="translate(341.7 287.9) scale(1 1.07)" fill="#000">6</text>
<text font-size="15" text-anchor="end" transform="translate(341.7 350.2) scale(1 1.07)" fill="#000">3</text>
<text font-size="15" text-anchor="end" transform="translate(341.7 412.29999999999995) scale(1 1.07)" fill="#000">0</text>
<text font-size="15" text-anchor="end" transform="translate(503.4 283.7) scale(1 1.07)" fill="#000">6</text>
<text font-size="15" text-anchor="end" transform="translate(503.4 348.09999999999997) scale(1 1.07)" fill="#000">3</text>
<text font-size="15" text-anchor="end" transform="translate(503.4 412.4) scale(1 1.07)" fill="#000">0</text>
<text font-size="15" text-anchor="middle" transform="translate(356.3 434.8) scale(1 1.07)" fill="#000">Start</text>
<text font-size="15" text-anchor="middle" transform="translate(413.9 434.8) scale(1 1.07)" fill="#000">100</text>
<text font-size="15" text-anchor="middle" transform="translate(471.0 434.8) scale(1 1.07)" fill="#000">200</text>
<text font-size="15" text-anchor="middle" transform="translate(514.5 434.8) scale(1 1.07)" fill="#000">Stop</text>
<text font-size="15" text-anchor="middle" transform="translate(576.5 434.8) scale(1 1.07)" fill="#000">250</text>
<text font-size="15" text-anchor="middle" transform="translate(639.5 434.8) scale(1 1.07)" fill="#000">500</text>
<text font-size="15" transform="translate(366.6 406.8) scale(1 1.07)" fill="#000">CDS</text>
<text font-size="15" transform="translate(519.4 406.6) scale(1 1.07)" fill="#000">3<tspan dx="0.6">′</tspan><tspan dx="0.9">UTR</tspan></text>
<text transform="translate(321.0 336.6) rotate(-90) scale(1 1.07)" font-size="15" text-anchor="middle">Density (×10<tspan font-size="10.5" dy="-5.5">3</tspan><tspan dy="5.5">)</tspan></text>
</svg>
</body></html>
